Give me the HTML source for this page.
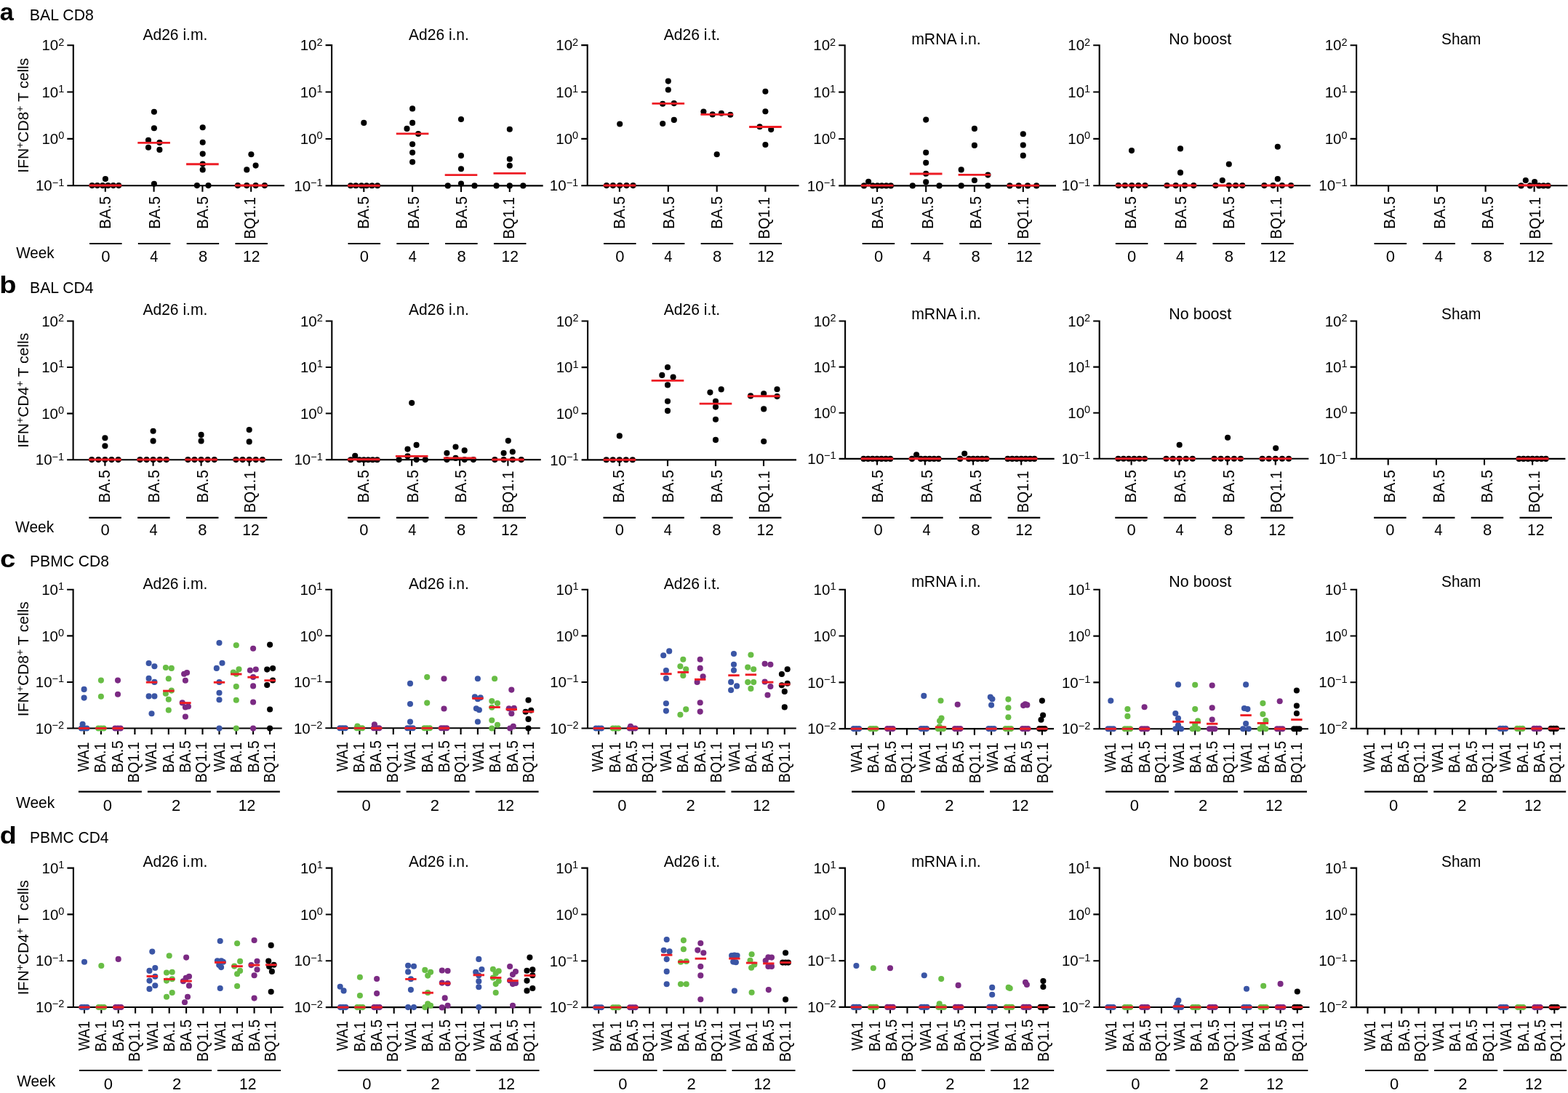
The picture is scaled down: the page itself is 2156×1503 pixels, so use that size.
<!DOCTYPE html>
<html><head><meta charset="utf-8"><title>IFN+ T cell responses</title>
<style>html,body{margin:0;padding:0;background:#fff;overflow:hidden;}svg{display:block;}</style></head>
<body><svg xmlns="http://www.w3.org/2000/svg" width="2156" height="1503" viewBox="0 0 2156 1503" font-family="'Liberation Sans', Arial, Helvetica, sans-serif" fill="#000">
<rect width="2156" height="1503" fill="#fff"/>
<text x="-0.22" y="27.8" font-size="33.5" font-weight="bold" textLength="19.05" lengthAdjust="spacingAndGlyphs">a</text>
<text x="40.86" y="27.8" font-size="22" textLength="88" lengthAdjust="spacingAndGlyphs">BAL CD8</text>
<text x="196.4" y="54.8" font-size="22" textLength="88.95" lengthAdjust="spacingAndGlyphs">Ad26 i.m.</text>
<path d="M100.8,61.2V255.2M92.3,255.2H391.1M92.3,62.2H100.8M92.3,126.53H100.8M92.3,190.87H100.8M144.8,255.2v8.6M211.6,255.2v8.6M278.4,255.2v8.6M345.2,255.2v8.6" stroke="#000" stroke-width="2.1" fill="none"/>
<text x="88.3" y="69.4" font-size="20.5" text-anchor="end">10<tspan font-size="14.5" dy="-6.8">2</tspan></text>
<text x="88.3" y="133.73" font-size="20.5" text-anchor="end">10<tspan font-size="14.5" dy="-6.8">1</tspan></text>
<text x="88.3" y="198.07" font-size="20.5" text-anchor="end">10<tspan font-size="14.5" dy="-6.8">0</tspan></text>
<text x="88.3" y="262.4" font-size="20.5" text-anchor="end">10<tspan font-size="14.5" dy="-6.8">−1</tspan></text>
<circle cx="126.6" cy="255.1" r="4.05" fill="#000000"/>
<circle cx="133.8" cy="255.1" r="4.05" fill="#000000"/>
<circle cx="141.1" cy="255.1" r="4.05" fill="#000000"/>
<circle cx="148.5" cy="255.1" r="4.05" fill="#000000"/>
<circle cx="155.8" cy="255.1" r="4.05" fill="#000000"/>
<circle cx="163.2" cy="255.1" r="4.05" fill="#000000"/>
<circle cx="144.9" cy="246" r="4.05" fill="#000000"/>
<circle cx="211.9" cy="153.7" r="4.05" fill="#000000"/>
<circle cx="211.9" cy="176.2" r="4.05" fill="#000000"/>
<circle cx="204" cy="192.8" r="4.05" fill="#000000"/>
<circle cx="219.4" cy="196.1" r="4.05" fill="#000000"/>
<circle cx="204" cy="202.7" r="4.05" fill="#000000"/>
<circle cx="219.4" cy="205.9" r="4.05" fill="#000000"/>
<circle cx="211.9" cy="252.7" r="4.05" fill="#000000"/>
<circle cx="278.7" cy="175.3" r="4.05" fill="#000000"/>
<circle cx="278.7" cy="195.8" r="4.05" fill="#000000"/>
<circle cx="278.7" cy="211.6" r="4.05" fill="#000000"/>
<circle cx="278.7" cy="225.6" r="4.05" fill="#000000"/>
<circle cx="278.7" cy="233.4" r="4.05" fill="#000000"/>
<circle cx="270.9" cy="255.1" r="4.05" fill="#000000"/>
<circle cx="286.5" cy="255.1" r="4.05" fill="#000000"/>
<circle cx="345.4" cy="212.2" r="4.05" fill="#000000"/>
<circle cx="351.6" cy="227.6" r="4.05" fill="#000000"/>
<circle cx="339.3" cy="233.4" r="4.05" fill="#000000"/>
<circle cx="326.9" cy="255.1" r="4.05" fill="#000000"/>
<circle cx="339.3" cy="255.1" r="4.05" fill="#000000"/>
<circle cx="351.6" cy="255.1" r="4.05" fill="#000000"/>
<circle cx="363.9" cy="255.1" r="4.05" fill="#000000"/>
<path d="M122.5,255H167.1" stroke="#ED1C24" stroke-width="2.9"/>
<path d="M189.3,196.4H233.9" stroke="#ED1C24" stroke-width="2.9"/>
<path d="M256.1,225.8H300.7" stroke="#ED1C24" stroke-width="2.9"/>
<path d="M322.9,255H367.5" stroke="#ED1C24" stroke-width="2.9"/>
<text transform="translate(151.5,270.5) rotate(-90)" x="-44.49" y="0" font-size="22" textLength="45.16" lengthAdjust="spacingAndGlyphs">BA.5</text>
<path d="M123.05,335H167.55" stroke="#000" stroke-width="2.1"/>
<text x="139.3" y="359.5" font-size="22" textLength="12.25" lengthAdjust="spacingAndGlyphs">0</text>
<text transform="translate(220,270.5) rotate(-90)" x="-44.49" y="0" font-size="22" textLength="45.16" lengthAdjust="spacingAndGlyphs">BA.5</text>
<path d="M189.85,335H234.35" stroke="#000" stroke-width="2.1"/>
<text x="206.19" y="359.5" font-size="22" textLength="11.14" lengthAdjust="spacingAndGlyphs">4</text>
<text transform="translate(286.4,270.5) rotate(-90)" x="-44.49" y="0" font-size="22" textLength="45.16" lengthAdjust="spacingAndGlyphs">BA.5</text>
<path d="M256.65,335H301.15" stroke="#000" stroke-width="2.1"/>
<text x="272.9" y="359.5" font-size="22" textLength="12.25" lengthAdjust="spacingAndGlyphs">8</text>
<text transform="translate(351.4,272.3) rotate(-90)" x="-56.55" y="0" font-size="22" textLength="57.83" lengthAdjust="spacingAndGlyphs">BQ1.1</text>
<path d="M323.45,335H367.95" stroke="#000" stroke-width="2.1"/>
<text x="334.04" y="359.5" font-size="22" textLength="23.44" lengthAdjust="spacingAndGlyphs">12</text>
<text x="22.3" y="355.1" font-size="22" textLength="52.29" lengthAdjust="spacingAndGlyphs">Week</text>
<text transform="translate(38.6,158.7) rotate(-90)" font-size="21" text-anchor="middle">IFN<tspan font-size="14" dy="-7">+</tspan><tspan dy="7">CD8</tspan><tspan font-size="14" dy="-7">+</tspan><tspan dy="7"> T cells</tspan></text>
<text x="562.1" y="54.8" font-size="22" textLength="82.76" lengthAdjust="spacingAndGlyphs">Ad26 i.n.</text>
<path d="M456.1,61.1V255.4M447.6,255.4H746.7M447.6,62.1H456.1M447.6,126.53H456.1M447.6,190.97H456.1M500.3,255.4v8.6M567.1,255.4v8.6M634,255.4v8.6M700.8,255.4v8.6" stroke="#000" stroke-width="2.1" fill="none"/>
<text x="443.6" y="69.3" font-size="20.5" text-anchor="end">10<tspan font-size="14.5" dy="-6.8">2</tspan></text>
<text x="443.6" y="133.73" font-size="20.5" text-anchor="end">10<tspan font-size="14.5" dy="-6.8">1</tspan></text>
<text x="443.6" y="198.17" font-size="20.5" text-anchor="end">10<tspan font-size="14.5" dy="-6.8">0</tspan></text>
<text x="443.6" y="262.6" font-size="20.5" text-anchor="end">10<tspan font-size="14.5" dy="-6.8">−1</tspan></text>
<circle cx="482.1" cy="255.3" r="4.05" fill="#000000"/>
<circle cx="489.3" cy="255.3" r="4.05" fill="#000000"/>
<circle cx="497" cy="255.3" r="4.05" fill="#000000"/>
<circle cx="504.1" cy="255.3" r="4.05" fill="#000000"/>
<circle cx="511.5" cy="255.3" r="4.05" fill="#000000"/>
<circle cx="519" cy="255.3" r="4.05" fill="#000000"/>
<circle cx="500.3" cy="168.9" r="4.05" fill="#000000"/>
<circle cx="567.1" cy="149.4" r="4.05" fill="#000000"/>
<circle cx="567.1" cy="168.9" r="4.05" fill="#000000"/>
<circle cx="559.5" cy="176.9" r="4.05" fill="#000000"/>
<circle cx="575.1" cy="184" r="4.05" fill="#000000"/>
<circle cx="567.1" cy="198.3" r="4.05" fill="#000000"/>
<circle cx="567.1" cy="209.8" r="4.05" fill="#000000"/>
<circle cx="567.1" cy="222.7" r="4.05" fill="#000000"/>
<circle cx="634" cy="164" r="4.05" fill="#000000"/>
<circle cx="634" cy="214" r="4.05" fill="#000000"/>
<circle cx="634" cy="232.2" r="4.05" fill="#000000"/>
<circle cx="634" cy="252.5" r="4.05" fill="#000000"/>
<circle cx="615.8" cy="255.4" r="4.05" fill="#000000"/>
<circle cx="652.5" cy="255.4" r="4.05" fill="#000000"/>
<circle cx="700.8" cy="177.8" r="4.05" fill="#000000"/>
<circle cx="700.8" cy="218.8" r="4.05" fill="#000000"/>
<circle cx="700.8" cy="227.8" r="4.05" fill="#000000"/>
<circle cx="682.6" cy="255.4" r="4.05" fill="#000000"/>
<circle cx="700.8" cy="255.4" r="4.05" fill="#000000"/>
<circle cx="719.3" cy="255.4" r="4.05" fill="#000000"/>
<path d="M478,255.2H522.6" stroke="#ED1C24" stroke-width="2.9"/>
<path d="M544.8,183.9H589.4" stroke="#ED1C24" stroke-width="2.9"/>
<path d="M611.7,240.6H656.3" stroke="#ED1C24" stroke-width="2.9"/>
<path d="M678.5,238.4H723.1" stroke="#ED1C24" stroke-width="2.9"/>
<text transform="translate(507,270.5) rotate(-90)" x="-44.49" y="0" font-size="22" textLength="45.16" lengthAdjust="spacingAndGlyphs">BA.5</text>
<path d="M478.55,335H523.05" stroke="#000" stroke-width="2.1"/>
<text x="494.8" y="359.5" font-size="22" textLength="12.25" lengthAdjust="spacingAndGlyphs">0</text>
<text transform="translate(575.5,270.5) rotate(-90)" x="-44.49" y="0" font-size="22" textLength="45.16" lengthAdjust="spacingAndGlyphs">BA.5</text>
<path d="M545.35,335H589.85" stroke="#000" stroke-width="2.1"/>
<text x="561.69" y="359.5" font-size="22" textLength="11.14" lengthAdjust="spacingAndGlyphs">4</text>
<text transform="translate(641.9,270.5) rotate(-90)" x="-44.49" y="0" font-size="22" textLength="45.16" lengthAdjust="spacingAndGlyphs">BA.5</text>
<path d="M612.15,335H656.65" stroke="#000" stroke-width="2.1"/>
<text x="628.4" y="359.5" font-size="22" textLength="12.25" lengthAdjust="spacingAndGlyphs">8</text>
<text transform="translate(706.9,272.3) rotate(-90)" x="-56.55" y="0" font-size="22" textLength="57.83" lengthAdjust="spacingAndGlyphs">BQ1.1</text>
<path d="M678.95,335H723.45" stroke="#000" stroke-width="2.1"/>
<text x="689.54" y="359.5" font-size="22" textLength="23.44" lengthAdjust="spacingAndGlyphs">12</text>
<text x="912.7" y="54.8" font-size="22" textLength="77.35" lengthAdjust="spacingAndGlyphs">Ad26 i.t.</text>
<path d="M807.7,61.1V255.2M799.2,255.2H1098.6M799.2,62.1H807.7M799.2,126.47H807.7M799.2,190.83H807.7M851.9,255.2v8.6M918.8,255.2v8.6M985.7,255.2v8.6M1052.4,255.2v8.6" stroke="#000" stroke-width="2.1" fill="none"/>
<text x="795.2" y="69.3" font-size="20.5" text-anchor="end">10<tspan font-size="14.5" dy="-6.8">2</tspan></text>
<text x="795.2" y="133.67" font-size="20.5" text-anchor="end">10<tspan font-size="14.5" dy="-6.8">1</tspan></text>
<text x="795.2" y="198.03" font-size="20.5" text-anchor="end">10<tspan font-size="14.5" dy="-6.8">0</tspan></text>
<text x="795.2" y="262.4" font-size="20.5" text-anchor="end">10<tspan font-size="14.5" dy="-6.8">−1</tspan></text>
<circle cx="834" cy="255.1" r="4.05" fill="#000000"/>
<circle cx="842.9" cy="255.1" r="4.05" fill="#000000"/>
<circle cx="852.2" cy="255.1" r="4.05" fill="#000000"/>
<circle cx="861.5" cy="255.1" r="4.05" fill="#000000"/>
<circle cx="870.5" cy="255.1" r="4.05" fill="#000000"/>
<circle cx="852.2" cy="170.5" r="4.05" fill="#000000"/>
<circle cx="918.8" cy="111.6" r="4.05" fill="#000000"/>
<circle cx="918.8" cy="123.5" r="4.05" fill="#000000"/>
<circle cx="911.2" cy="142.7" r="4.05" fill="#000000"/>
<circle cx="926.8" cy="142.1" r="4.05" fill="#000000"/>
<circle cx="926.8" cy="164.9" r="4.05" fill="#000000"/>
<circle cx="911.2" cy="170" r="4.05" fill="#000000"/>
<circle cx="967.4" cy="153.5" r="4.05" fill="#000000"/>
<circle cx="979.7" cy="157.4" r="4.05" fill="#000000"/>
<circle cx="991.9" cy="155.7" r="4.05" fill="#000000"/>
<circle cx="1004.3" cy="157.7" r="4.05" fill="#000000"/>
<circle cx="985.7" cy="212.2" r="4.05" fill="#000000"/>
<circle cx="1052.4" cy="125.7" r="4.05" fill="#000000"/>
<circle cx="1052.4" cy="153.3" r="4.05" fill="#000000"/>
<circle cx="1044.6" cy="174.2" r="4.05" fill="#000000"/>
<circle cx="1060.2" cy="178.1" r="4.05" fill="#000000"/>
<circle cx="1052.4" cy="199" r="4.05" fill="#000000"/>
<path d="M829.6,255H874.2" stroke="#ED1C24" stroke-width="2.9"/>
<path d="M896.5,142.4H941.1" stroke="#ED1C24" stroke-width="2.9"/>
<path d="M963.4,157.4H1008" stroke="#ED1C24" stroke-width="2.9"/>
<path d="M1030.1,174.5H1074.7" stroke="#ED1C24" stroke-width="2.9"/>
<text transform="translate(858.5,270.5) rotate(-90)" x="-44.49" y="0" font-size="22" textLength="45.16" lengthAdjust="spacingAndGlyphs">BA.5</text>
<path d="M830.05,335H874.55" stroke="#000" stroke-width="2.1"/>
<text x="846.3" y="359.5" font-size="22" textLength="12.25" lengthAdjust="spacingAndGlyphs">0</text>
<text transform="translate(927,270.5) rotate(-90)" x="-44.49" y="0" font-size="22" textLength="45.16" lengthAdjust="spacingAndGlyphs">BA.5</text>
<path d="M896.85,335H941.35" stroke="#000" stroke-width="2.1"/>
<text x="913.19" y="359.5" font-size="22" textLength="11.14" lengthAdjust="spacingAndGlyphs">4</text>
<text transform="translate(993.4,270.5) rotate(-90)" x="-44.49" y="0" font-size="22" textLength="45.16" lengthAdjust="spacingAndGlyphs">BA.5</text>
<path d="M963.65,335H1008.15" stroke="#000" stroke-width="2.1"/>
<text x="979.9" y="359.5" font-size="22" textLength="12.25" lengthAdjust="spacingAndGlyphs">8</text>
<text transform="translate(1058.4,272.3) rotate(-90)" x="-56.55" y="0" font-size="22" textLength="57.83" lengthAdjust="spacingAndGlyphs">BQ1.1</text>
<path d="M1030.45,335H1074.95" stroke="#000" stroke-width="2.1"/>
<text x="1041.04" y="359.5" font-size="22" textLength="23.44" lengthAdjust="spacingAndGlyphs">12</text>
<text x="1253.17" y="60.9" font-size="22" textLength="95.59" lengthAdjust="spacingAndGlyphs">mRNA i.n.</text>
<path d="M1161.7,61.2V255.4M1153.2,255.4H1452M1153.2,62.2H1161.7M1153.2,126.6H1161.7M1153.2,191H1161.7M1206.1,255.4v8.6M1273.2,255.4v8.6M1339.9,255.4v8.6M1406.8,255.4v8.6" stroke="#000" stroke-width="2.1" fill="none"/>
<text x="1149.2" y="69.4" font-size="20.5" text-anchor="end">10<tspan font-size="14.5" dy="-6.8">2</tspan></text>
<text x="1149.2" y="133.8" font-size="20.5" text-anchor="end">10<tspan font-size="14.5" dy="-6.8">1</tspan></text>
<text x="1149.2" y="198.2" font-size="20.5" text-anchor="end">10<tspan font-size="14.5" dy="-6.8">0</tspan></text>
<text x="1149.2" y="262.6" font-size="20.5" text-anchor="end">10<tspan font-size="14.5" dy="-6.8">−1</tspan></text>
<circle cx="1194.1" cy="249.8" r="4.05" fill="#000000"/>
<circle cx="1188" cy="255.4" r="4.05" fill="#000000"/>
<circle cx="1200.1" cy="255.4" r="4.05" fill="#000000"/>
<circle cx="1206.4" cy="255.4" r="4.05" fill="#000000"/>
<circle cx="1212.5" cy="255.4" r="4.05" fill="#000000"/>
<circle cx="1218.6" cy="255.4" r="4.05" fill="#000000"/>
<circle cx="1224.9" cy="255.4" r="4.05" fill="#000000"/>
<circle cx="1273.2" cy="164.6" r="4.05" fill="#000000"/>
<circle cx="1273.2" cy="209.7" r="4.05" fill="#000000"/>
<circle cx="1273.2" cy="223.8" r="4.05" fill="#000000"/>
<circle cx="1273.2" cy="238.8" r="4.05" fill="#000000"/>
<circle cx="1273.2" cy="250.2" r="4.05" fill="#000000"/>
<circle cx="1254.8" cy="255.4" r="4.05" fill="#000000"/>
<circle cx="1291.5" cy="255.4" r="4.05" fill="#000000"/>
<circle cx="1339.9" cy="176.9" r="4.05" fill="#000000"/>
<circle cx="1339.9" cy="199.9" r="4.05" fill="#000000"/>
<circle cx="1321.7" cy="233.4" r="4.05" fill="#000000"/>
<circle cx="1358.4" cy="240.6" r="4.05" fill="#000000"/>
<circle cx="1339.9" cy="248" r="4.05" fill="#000000"/>
<circle cx="1321.7" cy="255.4" r="4.05" fill="#000000"/>
<circle cx="1358.4" cy="255.4" r="4.05" fill="#000000"/>
<circle cx="1406.8" cy="184.3" r="4.05" fill="#000000"/>
<circle cx="1406.8" cy="199.5" r="4.05" fill="#000000"/>
<circle cx="1406.8" cy="213.9" r="4.05" fill="#000000"/>
<circle cx="1388.4" cy="255.4" r="4.05" fill="#000000"/>
<circle cx="1400.7" cy="255.4" r="4.05" fill="#000000"/>
<circle cx="1413" cy="255.4" r="4.05" fill="#000000"/>
<circle cx="1425.2" cy="255.4" r="4.05" fill="#000000"/>
<path d="M1183.8,255.1H1228.4" stroke="#ED1C24" stroke-width="2.9"/>
<path d="M1250.9,239H1295.5" stroke="#ED1C24" stroke-width="2.9"/>
<path d="M1317.6,240.4H1362.2" stroke="#ED1C24" stroke-width="2.9"/>
<path d="M1384.5,255.1H1429.1" stroke="#ED1C24" stroke-width="2.9"/>
<text transform="translate(1214.1,270.5) rotate(-90)" x="-44.49" y="0" font-size="22" textLength="45.16" lengthAdjust="spacingAndGlyphs">BA.5</text>
<path d="M1185.65,335H1230.15" stroke="#000" stroke-width="2.1"/>
<text x="1201.9" y="359.5" font-size="22" textLength="12.25" lengthAdjust="spacingAndGlyphs">0</text>
<text transform="translate(1282.6,270.5) rotate(-90)" x="-44.49" y="0" font-size="22" textLength="45.16" lengthAdjust="spacingAndGlyphs">BA.5</text>
<path d="M1252.45,335H1296.95" stroke="#000" stroke-width="2.1"/>
<text x="1268.79" y="359.5" font-size="22" textLength="11.14" lengthAdjust="spacingAndGlyphs">4</text>
<text transform="translate(1349,270.5) rotate(-90)" x="-44.49" y="0" font-size="22" textLength="45.16" lengthAdjust="spacingAndGlyphs">BA.5</text>
<path d="M1319.25,335H1363.75" stroke="#000" stroke-width="2.1"/>
<text x="1335.5" y="359.5" font-size="22" textLength="12.25" lengthAdjust="spacingAndGlyphs">8</text>
<text transform="translate(1414,272.3) rotate(-90)" x="-56.55" y="0" font-size="22" textLength="57.83" lengthAdjust="spacingAndGlyphs">BQ1.1</text>
<path d="M1386.05,335H1430.55" stroke="#000" stroke-width="2.1"/>
<text x="1396.64" y="359.5" font-size="22" textLength="23.44" lengthAdjust="spacingAndGlyphs">12</text>
<text x="1607.25" y="60.9" font-size="22" textLength="86.01" lengthAdjust="spacingAndGlyphs">No boost</text>
<path d="M1511.7,61.2V255.2M1503.2,255.2H1802M1503.2,62.2H1511.7M1503.2,126.53H1511.7M1503.2,190.87H1511.7M1556,255.2v8.6M1623,255.2v8.6M1689.8,255.2v8.6M1756.8,255.2v8.6" stroke="#000" stroke-width="2.1" fill="none"/>
<text x="1499.2" y="69.4" font-size="20.5" text-anchor="end">10<tspan font-size="14.5" dy="-6.8">2</tspan></text>
<text x="1499.2" y="133.73" font-size="20.5" text-anchor="end">10<tspan font-size="14.5" dy="-6.8">1</tspan></text>
<text x="1499.2" y="198.07" font-size="20.5" text-anchor="end">10<tspan font-size="14.5" dy="-6.8">0</tspan></text>
<text x="1499.2" y="262.4" font-size="20.5" text-anchor="end">10<tspan font-size="14.5" dy="-6.8">−1</tspan></text>
<circle cx="1556" cy="207.1" r="4.05" fill="#000000"/>
<circle cx="1537.8" cy="255.1" r="4.05" fill="#000000"/>
<circle cx="1546.9" cy="255.1" r="4.05" fill="#000000"/>
<circle cx="1556.2" cy="255.1" r="4.05" fill="#000000"/>
<circle cx="1565.3" cy="255.1" r="4.05" fill="#000000"/>
<circle cx="1574.5" cy="255.1" r="4.05" fill="#000000"/>
<circle cx="1623" cy="204.4" r="4.05" fill="#000000"/>
<circle cx="1623" cy="237.4" r="4.05" fill="#000000"/>
<circle cx="1604.6" cy="255.1" r="4.05" fill="#000000"/>
<circle cx="1616.7" cy="255.1" r="4.05" fill="#000000"/>
<circle cx="1629.1" cy="255.1" r="4.05" fill="#000000"/>
<circle cx="1641.3" cy="255.1" r="4.05" fill="#000000"/>
<circle cx="1689.8" cy="225.8" r="4.05" fill="#000000"/>
<circle cx="1680.8" cy="248" r="4.05" fill="#000000"/>
<circle cx="1671.4" cy="255.1" r="4.05" fill="#000000"/>
<circle cx="1689.8" cy="255.1" r="4.05" fill="#000000"/>
<circle cx="1699.1" cy="255.1" r="4.05" fill="#000000"/>
<circle cx="1708.3" cy="255.1" r="4.05" fill="#000000"/>
<circle cx="1756.8" cy="201.7" r="4.05" fill="#000000"/>
<circle cx="1756.8" cy="246" r="4.05" fill="#000000"/>
<circle cx="1738.4" cy="255.1" r="4.05" fill="#000000"/>
<circle cx="1750.5" cy="255.1" r="4.05" fill="#000000"/>
<circle cx="1762.9" cy="255.1" r="4.05" fill="#000000"/>
<circle cx="1775.1" cy="255.1" r="4.05" fill="#000000"/>
<path d="M1533.7,255H1578.3" stroke="#ED1C24" stroke-width="2.9"/>
<path d="M1600.7,255H1645.3" stroke="#ED1C24" stroke-width="2.9"/>
<path d="M1667.5,255H1712.1" stroke="#ED1C24" stroke-width="2.9"/>
<path d="M1734.5,255H1779.1" stroke="#ED1C24" stroke-width="2.9"/>
<text transform="translate(1562.3,270.5) rotate(-90)" x="-44.49" y="0" font-size="22" textLength="45.16" lengthAdjust="spacingAndGlyphs">BA.5</text>
<path d="M1533.85,335H1578.35" stroke="#000" stroke-width="2.1"/>
<text x="1550.1" y="359.5" font-size="22" textLength="12.25" lengthAdjust="spacingAndGlyphs">0</text>
<text transform="translate(1630.8,270.5) rotate(-90)" x="-44.49" y="0" font-size="22" textLength="45.16" lengthAdjust="spacingAndGlyphs">BA.5</text>
<path d="M1600.65,335H1645.15" stroke="#000" stroke-width="2.1"/>
<text x="1616.99" y="359.5" font-size="22" textLength="11.14" lengthAdjust="spacingAndGlyphs">4</text>
<text transform="translate(1697.2,270.5) rotate(-90)" x="-44.49" y="0" font-size="22" textLength="45.16" lengthAdjust="spacingAndGlyphs">BA.5</text>
<path d="M1667.45,335H1711.95" stroke="#000" stroke-width="2.1"/>
<text x="1683.7" y="359.5" font-size="22" textLength="12.25" lengthAdjust="spacingAndGlyphs">8</text>
<text transform="translate(1762.2,272.3) rotate(-90)" x="-56.55" y="0" font-size="22" textLength="57.83" lengthAdjust="spacingAndGlyphs">BQ1.1</text>
<path d="M1734.25,335H1778.75" stroke="#000" stroke-width="2.1"/>
<text x="1744.84" y="359.5" font-size="22" textLength="23.44" lengthAdjust="spacingAndGlyphs">12</text>
<text x="1982.06" y="60.9" font-size="22" textLength="54.24" lengthAdjust="spacingAndGlyphs">Sham</text>
<path d="M1865.1,61.2V255.2M1856.6,255.2H2155.4M1856.6,62.2H1865.1M1856.6,126.53H1865.1M1856.6,190.87H1865.1M1909.1,255.2v8.6M1976,255.2v8.6M2042.6,255.2v8.6M2109.6,255.2v8.6" stroke="#000" stroke-width="2.1" fill="none"/>
<text x="1852.6" y="69.4" font-size="20.5" text-anchor="end">10<tspan font-size="14.5" dy="-6.8">2</tspan></text>
<text x="1852.6" y="133.73" font-size="20.5" text-anchor="end">10<tspan font-size="14.5" dy="-6.8">1</tspan></text>
<text x="1852.6" y="198.07" font-size="20.5" text-anchor="end">10<tspan font-size="14.5" dy="-6.8">0</tspan></text>
<text x="1852.6" y="262.4" font-size="20.5" text-anchor="end">10<tspan font-size="14.5" dy="-6.8">−1</tspan></text>
<circle cx="2091.6" cy="255.4" r="4.05" fill="#000000"/>
<circle cx="2103.8" cy="255.4" r="4.05" fill="#000000"/>
<circle cx="2116.1" cy="255.4" r="4.05" fill="#000000"/>
<circle cx="2122.3" cy="255.4" r="4.05" fill="#000000"/>
<circle cx="2128.5" cy="255.4" r="4.05" fill="#000000"/>
<circle cx="2097.8" cy="248" r="4.05" fill="#000000"/>
<circle cx="2110.1" cy="250" r="4.05" fill="#000000"/>
<path d="M2087.3,254.8H2131.9" stroke="#ED1C24" stroke-width="2.9"/>
<text transform="translate(1918,270.5) rotate(-90)" x="-44.49" y="0" font-size="22" textLength="45.16" lengthAdjust="spacingAndGlyphs">BA.5</text>
<path d="M1889.55,335H1934.05" stroke="#000" stroke-width="2.1"/>
<text x="1905.8" y="359.5" font-size="22" textLength="12.25" lengthAdjust="spacingAndGlyphs">0</text>
<text transform="translate(1986.5,270.5) rotate(-90)" x="-44.49" y="0" font-size="22" textLength="45.16" lengthAdjust="spacingAndGlyphs">BA.5</text>
<path d="M1956.35,335H2000.85" stroke="#000" stroke-width="2.1"/>
<text x="1972.69" y="359.5" font-size="22" textLength="11.14" lengthAdjust="spacingAndGlyphs">4</text>
<text transform="translate(2052.9,270.5) rotate(-90)" x="-44.49" y="0" font-size="22" textLength="45.16" lengthAdjust="spacingAndGlyphs">BA.5</text>
<path d="M2023.15,335H2067.65" stroke="#000" stroke-width="2.1"/>
<text x="2039.4" y="359.5" font-size="22" textLength="12.25" lengthAdjust="spacingAndGlyphs">8</text>
<text transform="translate(2117.9,272.3) rotate(-90)" x="-56.55" y="0" font-size="22" textLength="57.83" lengthAdjust="spacingAndGlyphs">BQ1.1</text>
<path d="M2089.95,335H2134.45" stroke="#000" stroke-width="2.1"/>
<text x="2100.54" y="359.5" font-size="22" textLength="23.44" lengthAdjust="spacingAndGlyphs">12</text>
<text x="-0.77" y="403.4" font-size="33.5" font-weight="bold" textLength="23.24" lengthAdjust="spacingAndGlyphs">b</text>
<text x="41.08" y="402.7" font-size="22" textLength="87.38" lengthAdjust="spacingAndGlyphs">BAL CD4</text>
<text x="196.4" y="432.8" font-size="22" textLength="88.95" lengthAdjust="spacingAndGlyphs">Ad26 i.m.</text>
<path d="M100.6,440.5V632.2M92.1,632.2H387.9M92.1,441.5H100.6M92.1,505.07H100.6M92.1,568.63H100.6M144.4,632.2v8.6M210.6,632.2v8.6M276.6,632.2v8.6M342.7,632.2v8.6" stroke="#000" stroke-width="2.1" fill="none"/>
<text x="88.1" y="448.7" font-size="20.5" text-anchor="end">10<tspan font-size="14.5" dy="-6.8">2</tspan></text>
<text x="88.1" y="512.27" font-size="20.5" text-anchor="end">10<tspan font-size="14.5" dy="-6.8">1</tspan></text>
<text x="88.1" y="575.83" font-size="20.5" text-anchor="end">10<tspan font-size="14.5" dy="-6.8">0</tspan></text>
<text x="88.1" y="639.4" font-size="20.5" text-anchor="end">10<tspan font-size="14.5" dy="-6.8">−1</tspan></text>
<circle cx="126.2" cy="632.1" r="4.05" fill="#000000"/>
<circle cx="135.3" cy="632.1" r="4.05" fill="#000000"/>
<circle cx="144.4" cy="632.1" r="4.05" fill="#000000"/>
<circle cx="153.5" cy="632.1" r="4.05" fill="#000000"/>
<circle cx="162.6" cy="632.1" r="4.05" fill="#000000"/>
<circle cx="144.4" cy="602.2" r="4.05" fill="#000000"/>
<circle cx="144.4" cy="613.2" r="4.05" fill="#000000"/>
<circle cx="192.5" cy="632.1" r="4.05" fill="#000000"/>
<circle cx="201.6" cy="632.1" r="4.05" fill="#000000"/>
<circle cx="210.6" cy="632.1" r="4.05" fill="#000000"/>
<circle cx="219.7" cy="632.1" r="4.05" fill="#000000"/>
<circle cx="228.8" cy="632.1" r="4.05" fill="#000000"/>
<circle cx="210.6" cy="592.7" r="4.05" fill="#000000"/>
<circle cx="210.6" cy="606.4" r="4.05" fill="#000000"/>
<circle cx="258.4" cy="632.1" r="4.05" fill="#000000"/>
<circle cx="267.5" cy="632.1" r="4.05" fill="#000000"/>
<circle cx="276.6" cy="632.1" r="4.05" fill="#000000"/>
<circle cx="285.7" cy="632.1" r="4.05" fill="#000000"/>
<circle cx="294.8" cy="632.1" r="4.05" fill="#000000"/>
<circle cx="276.6" cy="597.9" r="4.05" fill="#000000"/>
<circle cx="276.6" cy="606.4" r="4.05" fill="#000000"/>
<circle cx="324.5" cy="632.1" r="4.05" fill="#000000"/>
<circle cx="333.6" cy="632.1" r="4.05" fill="#000000"/>
<circle cx="342.7" cy="632.1" r="4.05" fill="#000000"/>
<circle cx="351.8" cy="632.1" r="4.05" fill="#000000"/>
<circle cx="360.9" cy="632.1" r="4.05" fill="#000000"/>
<circle cx="342.7" cy="591" r="4.05" fill="#000000"/>
<circle cx="342.7" cy="607.4" r="4.05" fill="#000000"/>
<path d="M122.1,632H166.7" stroke="#ED1C24" stroke-width="2.9"/>
<path d="M188.3,632H232.9" stroke="#ED1C24" stroke-width="2.9"/>
<path d="M254.3,632H298.9" stroke="#ED1C24" stroke-width="2.9"/>
<path d="M320.4,632H365" stroke="#ED1C24" stroke-width="2.9"/>
<text transform="translate(150.8,646.9) rotate(-90)" x="-44.49" y="0" font-size="22" textLength="45.16" lengthAdjust="spacingAndGlyphs">BA.5</text>
<path d="M122.35,711.9H166.85" stroke="#000" stroke-width="2.1"/>
<text x="138.6" y="736.1" font-size="22" textLength="12.25" lengthAdjust="spacingAndGlyphs">0</text>
<text transform="translate(219.3,646.9) rotate(-90)" x="-44.49" y="0" font-size="22" textLength="45.16" lengthAdjust="spacingAndGlyphs">BA.5</text>
<path d="M189.15,711.9H233.65" stroke="#000" stroke-width="2.1"/>
<text x="205.49" y="736.1" font-size="22" textLength="11.14" lengthAdjust="spacingAndGlyphs">4</text>
<text transform="translate(285.7,646.9) rotate(-90)" x="-44.49" y="0" font-size="22" textLength="45.16" lengthAdjust="spacingAndGlyphs">BA.5</text>
<path d="M255.95,711.9H300.45" stroke="#000" stroke-width="2.1"/>
<text x="272.2" y="736.1" font-size="22" textLength="12.25" lengthAdjust="spacingAndGlyphs">8</text>
<text transform="translate(350.7,648.7) rotate(-90)" x="-56.55" y="0" font-size="22" textLength="57.83" lengthAdjust="spacingAndGlyphs">BQ1.1</text>
<path d="M322.75,711.9H367.25" stroke="#000" stroke-width="2.1"/>
<text x="333.34" y="736.1" font-size="22" textLength="23.44" lengthAdjust="spacingAndGlyphs">12</text>
<text x="21.1" y="731.8" font-size="22" textLength="53" lengthAdjust="spacingAndGlyphs">Week</text>
<text transform="translate(38.6,536.85) rotate(-90)" font-size="21" text-anchor="middle">IFN<tspan font-size="14" dy="-7">+</tspan><tspan dy="7">CD4</tspan><tspan font-size="14" dy="-7">+</tspan><tspan dy="7"> T cells</tspan></text>
<text x="562.1" y="432.8" font-size="22" textLength="82.76" lengthAdjust="spacingAndGlyphs">Ad26 i.n.</text>
<path d="M456.3,440.5V632.1M447.8,632.1H743.7M447.8,441.5H456.3M447.8,505.03H456.3M447.8,568.57H456.3M500.1,632.1v8.6M566.2,632.1v8.6M632.2,632.1v8.6M698.4,632.1v8.6" stroke="#000" stroke-width="2.1" fill="none"/>
<text x="443.8" y="448.7" font-size="20.5" text-anchor="end">10<tspan font-size="14.5" dy="-6.8">2</tspan></text>
<text x="443.8" y="512.23" font-size="20.5" text-anchor="end">10<tspan font-size="14.5" dy="-6.8">1</tspan></text>
<text x="443.8" y="575.77" font-size="20.5" text-anchor="end">10<tspan font-size="14.5" dy="-6.8">0</tspan></text>
<text x="443.8" y="639.3" font-size="20.5" text-anchor="end">10<tspan font-size="14.5" dy="-6.8">−1</tspan></text>
<circle cx="482.2" cy="632.3" r="4.05" fill="#000000"/>
<circle cx="494.2" cy="632.3" r="4.05" fill="#000000"/>
<circle cx="500.3" cy="632.3" r="4.05" fill="#000000"/>
<circle cx="506.3" cy="632.3" r="4.05" fill="#000000"/>
<circle cx="512.4" cy="632.3" r="4.05" fill="#000000"/>
<circle cx="518.6" cy="632.3" r="4.05" fill="#000000"/>
<circle cx="488.2" cy="626.7" r="4.05" fill="#000000"/>
<circle cx="566.2" cy="554.1" r="4.05" fill="#000000"/>
<circle cx="572.6" cy="611.9" r="4.05" fill="#000000"/>
<circle cx="560.5" cy="617.6" r="4.05" fill="#000000"/>
<circle cx="560.5" cy="627.3" r="4.05" fill="#000000"/>
<circle cx="548.6" cy="632.1" r="4.05" fill="#000000"/>
<circle cx="572.6" cy="632.1" r="4.05" fill="#000000"/>
<circle cx="584.8" cy="632.1" r="4.05" fill="#000000"/>
<circle cx="614.4" cy="623" r="4.05" fill="#000000"/>
<circle cx="626.5" cy="614.5" r="4.05" fill="#000000"/>
<circle cx="638.7" cy="619.4" r="4.05" fill="#000000"/>
<circle cx="626.5" cy="629.9" r="4.05" fill="#000000"/>
<circle cx="614.4" cy="632.1" r="4.05" fill="#000000"/>
<circle cx="638.7" cy="632.1" r="4.05" fill="#000000"/>
<circle cx="650.9" cy="632.1" r="4.05" fill="#000000"/>
<circle cx="698.8" cy="606.1" r="4.05" fill="#000000"/>
<circle cx="692.6" cy="623.1" r="4.05" fill="#000000"/>
<circle cx="704.8" cy="621.2" r="4.05" fill="#000000"/>
<circle cx="680.4" cy="632.1" r="4.05" fill="#000000"/>
<circle cx="692.6" cy="632.1" r="4.05" fill="#000000"/>
<circle cx="704.8" cy="632.1" r="4.05" fill="#000000"/>
<circle cx="716.8" cy="632.1" r="4.05" fill="#000000"/>
<path d="M477.8,631.8H522.4" stroke="#ED1C24" stroke-width="2.9"/>
<path d="M543.9,627.4H588.5" stroke="#ED1C24" stroke-width="2.9"/>
<path d="M609.9,629.9H654.5" stroke="#ED1C24" stroke-width="2.9"/>
<path d="M676.1,632H720.7" stroke="#ED1C24" stroke-width="2.9"/>
<text transform="translate(506.55,646.9) rotate(-90)" x="-44.49" y="0" font-size="22" textLength="45.16" lengthAdjust="spacingAndGlyphs">BA.5</text>
<path d="M478.1,711.9H522.6" stroke="#000" stroke-width="2.1"/>
<text x="494.35" y="736.1" font-size="22" textLength="12.25" lengthAdjust="spacingAndGlyphs">0</text>
<text transform="translate(575.05,646.9) rotate(-90)" x="-44.49" y="0" font-size="22" textLength="45.16" lengthAdjust="spacingAndGlyphs">BA.5</text>
<path d="M544.9,711.9H589.4" stroke="#000" stroke-width="2.1"/>
<text x="561.24" y="736.1" font-size="22" textLength="11.14" lengthAdjust="spacingAndGlyphs">4</text>
<text transform="translate(641.45,646.9) rotate(-90)" x="-44.49" y="0" font-size="22" textLength="45.16" lengthAdjust="spacingAndGlyphs">BA.5</text>
<path d="M611.7,711.9H656.2" stroke="#000" stroke-width="2.1"/>
<text x="627.95" y="736.1" font-size="22" textLength="12.25" lengthAdjust="spacingAndGlyphs">8</text>
<text transform="translate(706.45,648.7) rotate(-90)" x="-56.55" y="0" font-size="22" textLength="57.83" lengthAdjust="spacingAndGlyphs">BQ1.1</text>
<path d="M678.5,711.9H723" stroke="#000" stroke-width="2.1"/>
<text x="689.09" y="736.1" font-size="22" textLength="23.44" lengthAdjust="spacingAndGlyphs">12</text>
<text x="912.7" y="432.8" font-size="22" textLength="77.35" lengthAdjust="spacingAndGlyphs">Ad26 i.t.</text>
<path d="M808.1,440.5V632.4M799.6,632.4H1095M799.6,441.5H808.1M799.6,505.13H808.1M799.6,568.77H808.1M851.8,632.4v8.6M918,632.4v8.6M984,632.4v8.6M1050,632.4v8.6" stroke="#000" stroke-width="2.1" fill="none"/>
<text x="795.6" y="448.7" font-size="20.5" text-anchor="end">10<tspan font-size="14.5" dy="-6.8">2</tspan></text>
<text x="795.6" y="512.33" font-size="20.5" text-anchor="end">10<tspan font-size="14.5" dy="-6.8">1</tspan></text>
<text x="795.6" y="575.97" font-size="20.5" text-anchor="end">10<tspan font-size="14.5" dy="-6.8">0</tspan></text>
<text x="795.6" y="639.6" font-size="20.5" text-anchor="end">10<tspan font-size="14.5" dy="-6.8">−1</tspan></text>
<circle cx="833.7" cy="632.3" r="4.05" fill="#000000"/>
<circle cx="842.7" cy="632.3" r="4.05" fill="#000000"/>
<circle cx="851.8" cy="632.3" r="4.05" fill="#000000"/>
<circle cx="860.8" cy="632.3" r="4.05" fill="#000000"/>
<circle cx="869.8" cy="632.3" r="4.05" fill="#000000"/>
<circle cx="851.8" cy="599.4" r="4.05" fill="#000000"/>
<circle cx="918" cy="505" r="4.05" fill="#000000"/>
<circle cx="910.3" cy="515.9" r="4.05" fill="#000000"/>
<circle cx="925.6" cy="518.5" r="4.05" fill="#000000"/>
<circle cx="918" cy="529.4" r="4.05" fill="#000000"/>
<circle cx="918" cy="551.7" r="4.05" fill="#000000"/>
<circle cx="918" cy="564.9" r="4.05" fill="#000000"/>
<circle cx="976.4" cy="539.6" r="4.05" fill="#000000"/>
<circle cx="991.7" cy="535.4" r="4.05" fill="#000000"/>
<circle cx="984" cy="551.7" r="4.05" fill="#000000"/>
<circle cx="984" cy="559.6" r="4.05" fill="#000000"/>
<circle cx="984" cy="576.7" r="4.05" fill="#000000"/>
<circle cx="984" cy="604.9" r="4.05" fill="#000000"/>
<circle cx="1068.5" cy="535.2" r="4.05" fill="#000000"/>
<circle cx="1050.2" cy="541.2" r="4.05" fill="#000000"/>
<circle cx="1032.1" cy="544.4" r="4.05" fill="#000000"/>
<circle cx="1068.5" cy="545.1" r="4.05" fill="#000000"/>
<circle cx="1050.2" cy="562.4" r="4.05" fill="#000000"/>
<circle cx="1050.2" cy="607" r="4.05" fill="#000000"/>
<path d="M829.5,632.2H874.1" stroke="#ED1C24" stroke-width="2.9"/>
<path d="M895.7,523.4H940.3" stroke="#ED1C24" stroke-width="2.9"/>
<path d="M961.7,555.1H1006.3" stroke="#ED1C24" stroke-width="2.9"/>
<path d="M1027.7,544.7H1072.3" stroke="#ED1C24" stroke-width="2.9"/>
<text transform="translate(857.95,646.9) rotate(-90)" x="-44.49" y="0" font-size="22" textLength="45.16" lengthAdjust="spacingAndGlyphs">BA.5</text>
<path d="M829.5,711.9H874" stroke="#000" stroke-width="2.1"/>
<text x="845.75" y="736.1" font-size="22" textLength="12.25" lengthAdjust="spacingAndGlyphs">0</text>
<text transform="translate(926.45,646.9) rotate(-90)" x="-44.49" y="0" font-size="22" textLength="45.16" lengthAdjust="spacingAndGlyphs">BA.5</text>
<path d="M896.3,711.9H940.8" stroke="#000" stroke-width="2.1"/>
<text x="912.64" y="736.1" font-size="22" textLength="11.14" lengthAdjust="spacingAndGlyphs">4</text>
<text transform="translate(992.85,646.9) rotate(-90)" x="-44.49" y="0" font-size="22" textLength="45.16" lengthAdjust="spacingAndGlyphs">BA.5</text>
<path d="M963.1,711.9H1007.6" stroke="#000" stroke-width="2.1"/>
<text x="979.35" y="736.1" font-size="22" textLength="12.25" lengthAdjust="spacingAndGlyphs">8</text>
<text transform="translate(1057.85,648.7) rotate(-90)" x="-56.55" y="0" font-size="22" textLength="57.83" lengthAdjust="spacingAndGlyphs">BQ1.1</text>
<path d="M1029.9,711.9H1074.4" stroke="#000" stroke-width="2.1"/>
<text x="1040.49" y="736.1" font-size="22" textLength="23.44" lengthAdjust="spacingAndGlyphs">12</text>
<text x="1253.17" y="438.9" font-size="22" textLength="95.59" lengthAdjust="spacingAndGlyphs">mRNA i.n.</text>
<path d="M1162.1,440.5V630.9M1153.6,630.9H1449.7M1153.6,441.5H1162.1M1153.6,504.63H1162.1M1153.6,567.77H1162.1M1206,630.9v8.6M1271.9,630.9v8.6M1338.1,630.9v8.6M1404.2,630.9v8.6" stroke="#000" stroke-width="2.1" fill="none"/>
<text x="1149.6" y="448.7" font-size="20.5" text-anchor="end">10<tspan font-size="14.5" dy="-6.8">2</tspan></text>
<text x="1149.6" y="511.83" font-size="20.5" text-anchor="end">10<tspan font-size="14.5" dy="-6.8">1</tspan></text>
<text x="1149.6" y="574.97" font-size="20.5" text-anchor="end">10<tspan font-size="14.5" dy="-6.8">0</tspan></text>
<text x="1149.6" y="638.1" font-size="20.5" text-anchor="end">10<tspan font-size="14.5" dy="-6.8">−1</tspan></text>
<circle cx="1187.5" cy="630.9" r="4.05" fill="#000000"/>
<circle cx="1193.6" cy="630.9" r="4.05" fill="#000000"/>
<circle cx="1199.8" cy="630.9" r="4.05" fill="#000000"/>
<circle cx="1205.9" cy="630.9" r="4.05" fill="#000000"/>
<circle cx="1212" cy="630.9" r="4.05" fill="#000000"/>
<circle cx="1218.1" cy="630.9" r="4.05" fill="#000000"/>
<circle cx="1224.2" cy="630.9" r="4.05" fill="#000000"/>
<circle cx="1254" cy="630.9" r="4.05" fill="#000000"/>
<circle cx="1266" cy="630.9" r="4.05" fill="#000000"/>
<circle cx="1272.1" cy="630.9" r="4.05" fill="#000000"/>
<circle cx="1278.2" cy="630.9" r="4.05" fill="#000000"/>
<circle cx="1284.3" cy="630.9" r="4.05" fill="#000000"/>
<circle cx="1290.5" cy="630.9" r="4.05" fill="#000000"/>
<circle cx="1260.1" cy="625.3" r="4.05" fill="#000000"/>
<circle cx="1320.1" cy="630.9" r="4.05" fill="#000000"/>
<circle cx="1332.1" cy="630.9" r="4.05" fill="#000000"/>
<circle cx="1338.1" cy="630.9" r="4.05" fill="#000000"/>
<circle cx="1344.2" cy="630.9" r="4.05" fill="#000000"/>
<circle cx="1350.3" cy="630.9" r="4.05" fill="#000000"/>
<circle cx="1356.4" cy="630.9" r="4.05" fill="#000000"/>
<circle cx="1326.2" cy="623.7" r="4.05" fill="#000000"/>
<circle cx="1385.6" cy="630.9" r="4.05" fill="#000000"/>
<circle cx="1391.8" cy="630.9" r="4.05" fill="#000000"/>
<circle cx="1398" cy="630.9" r="4.05" fill="#000000"/>
<circle cx="1404.2" cy="630.9" r="4.05" fill="#000000"/>
<circle cx="1410.3" cy="630.9" r="4.05" fill="#000000"/>
<circle cx="1416.4" cy="630.9" r="4.05" fill="#000000"/>
<circle cx="1422.3" cy="630.9" r="4.05" fill="#000000"/>
<path d="M1183.7,630.7H1228.3" stroke="#ED1C24" stroke-width="2.9"/>
<path d="M1249.6,630.7H1294.2" stroke="#ED1C24" stroke-width="2.9"/>
<path d="M1315.8,630.7H1360.4" stroke="#ED1C24" stroke-width="2.9"/>
<path d="M1381.9,630.7H1426.5" stroke="#ED1C24" stroke-width="2.9"/>
<text transform="translate(1213.8,646.9) rotate(-90)" x="-44.49" y="0" font-size="22" textLength="45.16" lengthAdjust="spacingAndGlyphs">BA.5</text>
<path d="M1185.35,711.9H1229.85" stroke="#000" stroke-width="2.1"/>
<text x="1201.6" y="736.1" font-size="22" textLength="12.25" lengthAdjust="spacingAndGlyphs">0</text>
<text transform="translate(1282.3,646.9) rotate(-90)" x="-44.49" y="0" font-size="22" textLength="45.16" lengthAdjust="spacingAndGlyphs">BA.5</text>
<path d="M1252.15,711.9H1296.65" stroke="#000" stroke-width="2.1"/>
<text x="1268.49" y="736.1" font-size="22" textLength="11.14" lengthAdjust="spacingAndGlyphs">4</text>
<text transform="translate(1348.7,646.9) rotate(-90)" x="-44.49" y="0" font-size="22" textLength="45.16" lengthAdjust="spacingAndGlyphs">BA.5</text>
<path d="M1318.95,711.9H1363.45" stroke="#000" stroke-width="2.1"/>
<text x="1335.2" y="736.1" font-size="22" textLength="12.25" lengthAdjust="spacingAndGlyphs">8</text>
<text transform="translate(1413.7,648.7) rotate(-90)" x="-56.55" y="0" font-size="22" textLength="57.83" lengthAdjust="spacingAndGlyphs">BQ1.1</text>
<path d="M1385.75,711.9H1430.25" stroke="#000" stroke-width="2.1"/>
<text x="1396.34" y="736.1" font-size="22" textLength="23.44" lengthAdjust="spacingAndGlyphs">12</text>
<text x="1607.25" y="438.9" font-size="22" textLength="86.01" lengthAdjust="spacingAndGlyphs">No boost</text>
<path d="M1511.7,440.5V630.8M1503.2,630.8H1799.4M1503.2,441.5H1511.7M1503.2,504.6H1511.7M1503.2,567.7H1511.7M1555.6,630.8v8.6M1621.6,630.8v8.6M1687.7,630.8v8.6M1753.8,630.8v8.6" stroke="#000" stroke-width="2.1" fill="none"/>
<text x="1499.2" y="448.7" font-size="20.5" text-anchor="end">10<tspan font-size="14.5" dy="-6.8">2</tspan></text>
<text x="1499.2" y="511.8" font-size="20.5" text-anchor="end">10<tspan font-size="14.5" dy="-6.8">1</tspan></text>
<text x="1499.2" y="574.9" font-size="20.5" text-anchor="end">10<tspan font-size="14.5" dy="-6.8">0</tspan></text>
<text x="1499.2" y="638" font-size="20.5" text-anchor="end">10<tspan font-size="14.5" dy="-6.8">−1</tspan></text>
<circle cx="1537.5" cy="630.8" r="4.05" fill="#000000"/>
<circle cx="1544.8" cy="630.8" r="4.05" fill="#000000"/>
<circle cx="1552" cy="630.8" r="4.05" fill="#000000"/>
<circle cx="1559.4" cy="630.8" r="4.05" fill="#000000"/>
<circle cx="1566.6" cy="630.8" r="4.05" fill="#000000"/>
<circle cx="1574" cy="630.8" r="4.05" fill="#000000"/>
<circle cx="1603.5" cy="630.8" r="4.05" fill="#000000"/>
<circle cx="1612.7" cy="630.8" r="4.05" fill="#000000"/>
<circle cx="1621.7" cy="630.8" r="4.05" fill="#000000"/>
<circle cx="1630.8" cy="630.8" r="4.05" fill="#000000"/>
<circle cx="1639.8" cy="630.8" r="4.05" fill="#000000"/>
<circle cx="1621.7" cy="611.7" r="4.05" fill="#000000"/>
<circle cx="1669.6" cy="630.8" r="4.05" fill="#000000"/>
<circle cx="1678.6" cy="630.8" r="4.05" fill="#000000"/>
<circle cx="1687.8" cy="630.8" r="4.05" fill="#000000"/>
<circle cx="1696.9" cy="630.8" r="4.05" fill="#000000"/>
<circle cx="1705.9" cy="630.8" r="4.05" fill="#000000"/>
<circle cx="1688.1" cy="601.7" r="4.05" fill="#000000"/>
<circle cx="1735.7" cy="630.8" r="4.05" fill="#000000"/>
<circle cx="1744.7" cy="630.8" r="4.05" fill="#000000"/>
<circle cx="1753.8" cy="630.8" r="4.05" fill="#000000"/>
<circle cx="1763" cy="630.8" r="4.05" fill="#000000"/>
<circle cx="1772" cy="630.8" r="4.05" fill="#000000"/>
<circle cx="1754.2" cy="616.3" r="4.05" fill="#000000"/>
<path d="M1533.3,630.6H1577.9" stroke="#ED1C24" stroke-width="2.9"/>
<path d="M1599.3,630.6H1643.9" stroke="#ED1C24" stroke-width="2.9"/>
<path d="M1665.4,630.6H1710" stroke="#ED1C24" stroke-width="2.9"/>
<path d="M1731.5,630.6H1776.1" stroke="#ED1C24" stroke-width="2.9"/>
<text transform="translate(1561.7,646.9) rotate(-90)" x="-44.49" y="0" font-size="22" textLength="45.16" lengthAdjust="spacingAndGlyphs">BA.5</text>
<path d="M1533.25,711.9H1577.75" stroke="#000" stroke-width="2.1"/>
<text x="1549.5" y="736.1" font-size="22" textLength="12.25" lengthAdjust="spacingAndGlyphs">0</text>
<text transform="translate(1630.2,646.9) rotate(-90)" x="-44.49" y="0" font-size="22" textLength="45.16" lengthAdjust="spacingAndGlyphs">BA.5</text>
<path d="M1600.05,711.9H1644.55" stroke="#000" stroke-width="2.1"/>
<text x="1616.39" y="736.1" font-size="22" textLength="11.14" lengthAdjust="spacingAndGlyphs">4</text>
<text transform="translate(1696.6,646.9) rotate(-90)" x="-44.49" y="0" font-size="22" textLength="45.16" lengthAdjust="spacingAndGlyphs">BA.5</text>
<path d="M1666.85,711.9H1711.35" stroke="#000" stroke-width="2.1"/>
<text x="1683.1" y="736.1" font-size="22" textLength="12.25" lengthAdjust="spacingAndGlyphs">8</text>
<text transform="translate(1761.6,648.7) rotate(-90)" x="-56.55" y="0" font-size="22" textLength="57.83" lengthAdjust="spacingAndGlyphs">BQ1.1</text>
<path d="M1733.65,711.9H1778.15" stroke="#000" stroke-width="2.1"/>
<text x="1744.24" y="736.1" font-size="22" textLength="23.44" lengthAdjust="spacingAndGlyphs">12</text>
<text x="1982.06" y="438.9" font-size="22" textLength="54.24" lengthAdjust="spacingAndGlyphs">Sham</text>
<path d="M1865.1,440.5V630.9M1856.6,630.9H2152.4M1856.6,441.5H1865.1M1856.6,504.63H1865.1M1856.6,567.77H1865.1M1908.7,630.9v8.6M1974.9,630.9v8.6M2041,630.9v8.6M2107.1,630.9v8.6" stroke="#000" stroke-width="2.1" fill="none"/>
<text x="1852.6" y="448.7" font-size="20.5" text-anchor="end">10<tspan font-size="14.5" dy="-6.8">2</tspan></text>
<text x="1852.6" y="511.83" font-size="20.5" text-anchor="end">10<tspan font-size="14.5" dy="-6.8">1</tspan></text>
<text x="1852.6" y="574.97" font-size="20.5" text-anchor="end">10<tspan font-size="14.5" dy="-6.8">0</tspan></text>
<text x="1852.6" y="638.1" font-size="20.5" text-anchor="end">10<tspan font-size="14.5" dy="-6.8">−1</tspan></text>
<circle cx="2088.6" cy="630.9" r="4.05" fill="#000000"/>
<circle cx="2094.8" cy="630.9" r="4.05" fill="#000000"/>
<circle cx="2101" cy="630.9" r="4.05" fill="#000000"/>
<circle cx="2107.1" cy="630.9" r="4.05" fill="#000000"/>
<circle cx="2113.3" cy="630.9" r="4.05" fill="#000000"/>
<circle cx="2119.5" cy="630.9" r="4.05" fill="#000000"/>
<circle cx="2125.6" cy="630.9" r="4.05" fill="#000000"/>
<path d="M2084.8,630.7H2129.4" stroke="#ED1C24" stroke-width="2.9"/>
<text transform="translate(1917.55,646.9) rotate(-90)" x="-44.49" y="0" font-size="22" textLength="45.16" lengthAdjust="spacingAndGlyphs">BA.5</text>
<path d="M1889.1,711.9H1933.6" stroke="#000" stroke-width="2.1"/>
<text x="1905.35" y="736.1" font-size="22" textLength="12.25" lengthAdjust="spacingAndGlyphs">0</text>
<text transform="translate(1986.05,646.9) rotate(-90)" x="-44.49" y="0" font-size="22" textLength="45.16" lengthAdjust="spacingAndGlyphs">BA.5</text>
<path d="M1955.9,711.9H2000.4" stroke="#000" stroke-width="2.1"/>
<text x="1972.24" y="736.1" font-size="22" textLength="11.14" lengthAdjust="spacingAndGlyphs">4</text>
<text transform="translate(2052.45,646.9) rotate(-90)" x="-44.49" y="0" font-size="22" textLength="45.16" lengthAdjust="spacingAndGlyphs">BA.5</text>
<path d="M2022.7,711.9H2067.2" stroke="#000" stroke-width="2.1"/>
<text x="2038.95" y="736.1" font-size="22" textLength="12.25" lengthAdjust="spacingAndGlyphs">8</text>
<text transform="translate(2117.45,648.7) rotate(-90)" x="-56.55" y="0" font-size="22" textLength="57.83" lengthAdjust="spacingAndGlyphs">BQ1.1</text>
<path d="M2089.5,711.9H2134" stroke="#000" stroke-width="2.1"/>
<text x="2100.09" y="736.1" font-size="22" textLength="23.44" lengthAdjust="spacingAndGlyphs">12</text>
<text x="-0.04" y="779.5" font-size="33.5" font-weight="bold" textLength="21.32" lengthAdjust="spacingAndGlyphs">c</text>
<text x="41.09" y="779.1" font-size="22" textLength="108.77" lengthAdjust="spacingAndGlyphs">PBMC CD8</text>
<text x="196.4" y="809.7" font-size="22" textLength="88.95" lengthAdjust="spacingAndGlyphs">Ad26 i.m.</text>
<path d="M100.6,809.8V1001.5M92.1,1001.5H387.7M92.1,810.8H100.6M92.1,874.37H100.6M92.1,937.93H100.6M115.6,1001.5v8.6M138.9,1001.5v8.6M162,1001.5v8.6M185.4,1001.5v8.6M208.5,1001.5v8.6M231.8,1001.5v8.6M254.9,1001.5v8.6M278.5,1001.5v8.6M301.5,1001.5v8.6M324.8,1001.5v8.6M348.1,1001.5v8.6M371.1,1001.5v8.6" stroke="#000" stroke-width="2.1" fill="none"/>
<text x="88.1" y="818" font-size="20.5" text-anchor="end">10<tspan font-size="14.5" dy="-6.8">1</tspan></text>
<text x="88.1" y="881.57" font-size="20.5" text-anchor="end">10<tspan font-size="14.5" dy="-6.8">0</tspan></text>
<text x="88.1" y="945.13" font-size="20.5" text-anchor="end">10<tspan font-size="14.5" dy="-6.8">−1</tspan></text>
<text x="88.1" y="1008.7" font-size="20.5" text-anchor="end">10<tspan font-size="14.5" dy="-6.8">−2</tspan></text>
<circle cx="111.9" cy="1001.5" r="4.05" fill="#3A55A5"/>
<circle cx="115.6" cy="1001.5" r="4.05" fill="#3A55A5"/>
<circle cx="119.3" cy="1001.5" r="4.05" fill="#3A55A5"/>
<circle cx="135.2" cy="1001.5" r="4.05" fill="#68BD45"/>
<circle cx="138.9" cy="1001.5" r="4.05" fill="#68BD45"/>
<circle cx="142.6" cy="1001.5" r="4.05" fill="#68BD45"/>
<circle cx="158.3" cy="1001.5" r="4.05" fill="#7B2A83"/>
<circle cx="162" cy="1001.5" r="4.05" fill="#7B2A83"/>
<circle cx="165.7" cy="1001.5" r="4.05" fill="#7B2A83"/>
<circle cx="115.6" cy="947.9" r="4.05" fill="#3A55A5"/>
<circle cx="115.6" cy="959.6" r="4.05" fill="#3A55A5"/>
<circle cx="113.6" cy="995.7" r="4.05" fill="#3A55A5"/>
<circle cx="138.9" cy="935.6" r="4.05" fill="#68BD45"/>
<circle cx="138.9" cy="957.8" r="4.05" fill="#68BD45"/>
<circle cx="162" cy="935.6" r="4.05" fill="#7B2A83"/>
<circle cx="162" cy="954.8" r="4.05" fill="#7B2A83"/>
<circle cx="204.6" cy="912" r="4.05" fill="#3A55A5"/>
<circle cx="212.4" cy="916.3" r="4.05" fill="#3A55A5"/>
<circle cx="204.6" cy="932.9" r="4.05" fill="#3A55A5"/>
<circle cx="212.4" cy="937.9" r="4.05" fill="#3A55A5"/>
<circle cx="204.6" cy="957.4" r="4.05" fill="#3A55A5"/>
<circle cx="212.4" cy="957.4" r="4.05" fill="#3A55A5"/>
<circle cx="208.5" cy="981.3" r="4.05" fill="#3A55A5"/>
<circle cx="227.9" cy="918" r="4.05" fill="#68BD45"/>
<circle cx="235.8" cy="918.9" r="4.05" fill="#68BD45"/>
<circle cx="231.8" cy="933.2" r="4.05" fill="#68BD45"/>
<circle cx="235.8" cy="949.6" r="4.05" fill="#68BD45"/>
<circle cx="227.9" cy="953.8" r="4.05" fill="#68BD45"/>
<circle cx="231.8" cy="961.8" r="4.05" fill="#68BD45"/>
<circle cx="231.8" cy="976.5" r="4.05" fill="#68BD45"/>
<circle cx="253.1" cy="926.8" r="4.05" fill="#7B2A83"/>
<circle cx="257.1" cy="925" r="4.05" fill="#7B2A83"/>
<circle cx="254.9" cy="935.7" r="4.05" fill="#7B2A83"/>
<circle cx="250.7" cy="966.4" r="4.05" fill="#7B2A83"/>
<circle cx="254.9" cy="972.5" r="4.05" fill="#7B2A83"/>
<circle cx="258.9" cy="971.5" r="4.05" fill="#7B2A83"/>
<circle cx="254.9" cy="985.5" r="4.05" fill="#7B2A83"/>
<circle cx="301.5" cy="884" r="4.05" fill="#3A55A5"/>
<circle cx="305.5" cy="911.7" r="4.05" fill="#3A55A5"/>
<circle cx="297.8" cy="918.9" r="4.05" fill="#3A55A5"/>
<circle cx="301.5" cy="938" r="4.05" fill="#3A55A5"/>
<circle cx="301.5" cy="952.7" r="4.05" fill="#3A55A5"/>
<circle cx="301.5" cy="962.2" r="4.05" fill="#3A55A5"/>
<circle cx="301.5" cy="1001.6" r="4.05" fill="#3A55A5"/>
<circle cx="324.8" cy="887.2" r="4.05" fill="#68BD45"/>
<circle cx="328.5" cy="920.3" r="4.05" fill="#68BD45"/>
<circle cx="320.8" cy="924.5" r="4.05" fill="#68BD45"/>
<circle cx="324.8" cy="926.8" r="4.05" fill="#68BD45"/>
<circle cx="324.8" cy="944.1" r="4.05" fill="#68BD45"/>
<circle cx="324.8" cy="962.7" r="4.05" fill="#68BD45"/>
<circle cx="324.8" cy="1001.6" r="4.05" fill="#68BD45"/>
<circle cx="348.1" cy="891.7" r="4.05" fill="#7B2A83"/>
<circle cx="343.9" cy="921.7" r="4.05" fill="#7B2A83"/>
<circle cx="351.8" cy="920.5" r="4.05" fill="#7B2A83"/>
<circle cx="348.1" cy="931" r="4.05" fill="#7B2A83"/>
<circle cx="348.1" cy="943.4" r="4.05" fill="#7B2A83"/>
<circle cx="348.1" cy="965.5" r="4.05" fill="#7B2A83"/>
<circle cx="348.1" cy="1001.6" r="4.05" fill="#7B2A83"/>
<circle cx="371.1" cy="886.6" r="4.05" fill="#000000"/>
<circle cx="367.2" cy="920.6" r="4.05" fill="#000000"/>
<circle cx="375.1" cy="919.1" r="4.05" fill="#000000"/>
<circle cx="375.1" cy="935.5" r="4.05" fill="#000000"/>
<circle cx="367.2" cy="942" r="4.05" fill="#000000"/>
<circle cx="371.1" cy="975.5" r="4.05" fill="#000000"/>
<circle cx="371.1" cy="1001.6" r="4.05" fill="#000000"/>
<path d="M107.9,1001.5H123.3" stroke="#ED1C24" stroke-width="2.9"/>
<path d="M131.2,1001.5H146.6" stroke="#ED1C24" stroke-width="2.9"/>
<path d="M154.3,1001.5H169.7" stroke="#ED1C24" stroke-width="2.9"/>
<path d="M200.8,938.2H216.2" stroke="#ED1C24" stroke-width="2.9"/>
<path d="M224.1,950.1H239.5" stroke="#ED1C24" stroke-width="2.9"/>
<path d="M247.2,966.6H262.6" stroke="#ED1C24" stroke-width="2.9"/>
<path d="M293.8,938.3H309.2" stroke="#ED1C24" stroke-width="2.9"/>
<path d="M317.1,927H332.5" stroke="#ED1C24" stroke-width="2.9"/>
<path d="M340.4,931.2H355.8" stroke="#ED1C24" stroke-width="2.9"/>
<path d="M363.4,935.7H378.8" stroke="#ED1C24" stroke-width="2.9"/>
<text transform="translate(121.8,1021.4) rotate(-90)" x="-39.9" y="0" font-size="22" textLength="40.65" lengthAdjust="spacingAndGlyphs">WA1</text>
<text transform="translate(145.2,1021.4) rotate(-90)" x="-41.26" y="0" font-size="22" textLength="41.87" lengthAdjust="spacingAndGlyphs">BA.1</text>
<text transform="translate(168.6,1018.9) rotate(-90)" x="-43.76" y="0" font-size="22" textLength="44.42" lengthAdjust="spacingAndGlyphs">BA.5</text>
<text transform="translate(190.8,1021.4) rotate(-90)" x="-55.21" y="0" font-size="22" textLength="56.45" lengthAdjust="spacingAndGlyphs">BQ1.1</text>
<text transform="translate(215.4,1021.4) rotate(-90)" x="-39.9" y="0" font-size="22" textLength="40.65" lengthAdjust="spacingAndGlyphs">WA1</text>
<text transform="translate(238.8,1021.4) rotate(-90)" x="-41.26" y="0" font-size="22" textLength="41.87" lengthAdjust="spacingAndGlyphs">BA.1</text>
<text transform="translate(262.2,1018.9) rotate(-90)" x="-43.76" y="0" font-size="22" textLength="44.42" lengthAdjust="spacingAndGlyphs">BA.5</text>
<text transform="translate(284.4,1021.4) rotate(-90)" x="-55.21" y="0" font-size="22" textLength="56.45" lengthAdjust="spacingAndGlyphs">BQ1.1</text>
<text transform="translate(309,1021.4) rotate(-90)" x="-39.9" y="0" font-size="22" textLength="40.65" lengthAdjust="spacingAndGlyphs">WA1</text>
<text transform="translate(332.4,1021.4) rotate(-90)" x="-41.26" y="0" font-size="22" textLength="41.87" lengthAdjust="spacingAndGlyphs">BA.1</text>
<text transform="translate(355.8,1018.9) rotate(-90)" x="-43.76" y="0" font-size="22" textLength="44.42" lengthAdjust="spacingAndGlyphs">BA.5</text>
<text transform="translate(378,1021.4) rotate(-90)" x="-55.21" y="0" font-size="22" textLength="56.45" lengthAdjust="spacingAndGlyphs">BQ1.1</text>
<path d="M107.9,1088.6H194.9" stroke="#000" stroke-width="2.1"/>
<text x="141.7" y="1114.5" font-size="22" textLength="12.25" lengthAdjust="spacingAndGlyphs">0</text>
<path d="M202.9,1088.6H289.9" stroke="#000" stroke-width="2.1"/>
<text x="236" y="1114.5" font-size="22" textLength="12.25" lengthAdjust="spacingAndGlyphs">2</text>
<path d="M297.9,1088.6H384.9" stroke="#000" stroke-width="2.1"/>
<text x="327.78" y="1114.5" font-size="22" textLength="23.55" lengthAdjust="spacingAndGlyphs">12</text>
<text x="22.1" y="1110.6" font-size="22" textLength="53.1" lengthAdjust="spacingAndGlyphs">Week</text>
<text transform="translate(38.6,906.15) rotate(-90)" font-size="21" text-anchor="middle">IFN<tspan font-size="14" dy="-7">+</tspan><tspan dy="7">CD8</tspan><tspan font-size="14" dy="-7">+</tspan><tspan dy="7"> T cells</tspan></text>
<text x="562.1" y="809.7" font-size="22" textLength="82.76" lengthAdjust="spacingAndGlyphs">Ad26 i.n.</text>
<path d="M455.8,809.8V1001.3M447.3,1001.3H742.7M447.3,810.8H455.8M447.3,874.3H455.8M447.3,937.8H455.8M471.1,1001.3v8.6M494.4,1001.3v8.6M517.6,1001.3v8.6M540.8,1001.3v8.6M564,1001.3v8.6M587.2,1001.3v8.6M610.5,1001.3v8.6M633.6,1001.3v8.6M656.9,1001.3v8.6M680.1,1001.3v8.6M703.3,1001.3v8.6M726.5,1001.3v8.6" stroke="#000" stroke-width="2.1" fill="none"/>
<text x="443.3" y="818" font-size="20.5" text-anchor="end">10<tspan font-size="14.5" dy="-6.8">1</tspan></text>
<text x="443.3" y="881.5" font-size="20.5" text-anchor="end">10<tspan font-size="14.5" dy="-6.8">0</tspan></text>
<text x="443.3" y="945" font-size="20.5" text-anchor="end">10<tspan font-size="14.5" dy="-6.8">−1</tspan></text>
<text x="443.3" y="1008.5" font-size="20.5" text-anchor="end">10<tspan font-size="14.5" dy="-6.8">−2</tspan></text>
<circle cx="467.4" cy="1001.3" r="4.05" fill="#3A55A5"/>
<circle cx="471.1" cy="1001.3" r="4.05" fill="#3A55A5"/>
<circle cx="474.8" cy="1001.3" r="4.05" fill="#3A55A5"/>
<circle cx="490.7" cy="1001.3" r="4.05" fill="#68BD45"/>
<circle cx="494.4" cy="1001.3" r="4.05" fill="#68BD45"/>
<circle cx="498.1" cy="1001.3" r="4.05" fill="#68BD45"/>
<circle cx="513.9" cy="1001.3" r="4.05" fill="#7B2A83"/>
<circle cx="517.6" cy="1001.3" r="4.05" fill="#7B2A83"/>
<circle cx="521.3" cy="1001.3" r="4.05" fill="#7B2A83"/>
<circle cx="560.3" cy="1001.3" r="4.05" fill="#3A55A5"/>
<circle cx="564" cy="1001.3" r="4.05" fill="#3A55A5"/>
<circle cx="567.7" cy="1001.3" r="4.05" fill="#3A55A5"/>
<circle cx="583.5" cy="1001.3" r="4.05" fill="#68BD45"/>
<circle cx="587.2" cy="1001.3" r="4.05" fill="#68BD45"/>
<circle cx="590.9" cy="1001.3" r="4.05" fill="#68BD45"/>
<circle cx="606.8" cy="1001.3" r="4.05" fill="#7B2A83"/>
<circle cx="610.5" cy="1001.3" r="4.05" fill="#7B2A83"/>
<circle cx="614.2" cy="1001.3" r="4.05" fill="#7B2A83"/>
<circle cx="491.4" cy="998.5" r="4.05" fill="#68BD45"/>
<circle cx="514.9" cy="996.3" r="4.05" fill="#7B2A83"/>
<circle cx="564" cy="939.9" r="4.05" fill="#3A55A5"/>
<circle cx="564" cy="968" r="4.05" fill="#3A55A5"/>
<circle cx="564" cy="992.6" r="4.05" fill="#3A55A5"/>
<circle cx="587.2" cy="931.1" r="4.05" fill="#68BD45"/>
<circle cx="587.2" cy="966.6" r="4.05" fill="#68BD45"/>
<circle cx="610.5" cy="933.2" r="4.05" fill="#7B2A83"/>
<circle cx="610.5" cy="974.5" r="4.05" fill="#7B2A83"/>
<circle cx="656.9" cy="933.2" r="4.05" fill="#3A55A5"/>
<circle cx="652.9" cy="958.3" r="4.05" fill="#3A55A5"/>
<circle cx="660.7" cy="959.3" r="4.05" fill="#3A55A5"/>
<circle cx="656.9" cy="961.3" r="4.05" fill="#3A55A5"/>
<circle cx="654.9" cy="974.3" r="4.05" fill="#3A55A5"/>
<circle cx="658.9" cy="976.3" r="4.05" fill="#3A55A5"/>
<circle cx="656.9" cy="992.5" r="4.05" fill="#3A55A5"/>
<circle cx="680.1" cy="933.2" r="4.05" fill="#68BD45"/>
<circle cx="676.3" cy="964.1" r="4.05" fill="#68BD45"/>
<circle cx="684" cy="967" r="4.05" fill="#68BD45"/>
<circle cx="676.3" cy="972.8" r="4.05" fill="#68BD45"/>
<circle cx="676.3" cy="990.5" r="4.05" fill="#68BD45"/>
<circle cx="684" cy="996.7" r="4.05" fill="#68BD45"/>
<circle cx="676.3" cy="1001.5" r="4.05" fill="#68BD45"/>
<circle cx="703.3" cy="948.6" r="4.05" fill="#7B2A83"/>
<circle cx="699.8" cy="974.3" r="4.05" fill="#7B2A83"/>
<circle cx="706.8" cy="973.8" r="4.05" fill="#7B2A83"/>
<circle cx="703.3" cy="981.3" r="4.05" fill="#7B2A83"/>
<circle cx="705.8" cy="998.7" r="4.05" fill="#7B2A83"/>
<circle cx="701.3" cy="1001.5" r="4.05" fill="#7B2A83"/>
<circle cx="726.5" cy="962.8" r="4.05" fill="#000000"/>
<circle cx="722.7" cy="978.8" r="4.05" fill="#000000"/>
<circle cx="730.2" cy="976.8" r="4.05" fill="#000000"/>
<circle cx="726.5" cy="988.9" r="4.05" fill="#000000"/>
<circle cx="726.5" cy="1001.5" r="4.05" fill="#000000"/>
<path d="M463.4,1001.3H478.8" stroke="#ED1C24" stroke-width="2.9"/>
<path d="M486.7,1001.3H502.1" stroke="#ED1C24" stroke-width="2.9"/>
<path d="M509.9,1001.3H525.3" stroke="#ED1C24" stroke-width="2.9"/>
<path d="M556.3,1001.3H571.7" stroke="#ED1C24" stroke-width="2.9"/>
<path d="M579.5,1001.3H594.9" stroke="#ED1C24" stroke-width="2.9"/>
<path d="M602.8,1001.3H618.2" stroke="#ED1C24" stroke-width="2.9"/>
<path d="M649.2,960.3H664.6" stroke="#ED1C24" stroke-width="2.9"/>
<path d="M672.4,972.5H687.8" stroke="#ED1C24" stroke-width="2.9"/>
<path d="M695.6,975.5H711" stroke="#ED1C24" stroke-width="2.9"/>
<path d="M718.8,978.6H734.2" stroke="#ED1C24" stroke-width="2.9"/>
<text transform="translate(477.5,1021.2) rotate(-90)" x="-39.9" y="0" font-size="22" textLength="40.65" lengthAdjust="spacingAndGlyphs">WA1</text>
<text transform="translate(500.9,1021.2) rotate(-90)" x="-41.26" y="0" font-size="22" textLength="41.87" lengthAdjust="spacingAndGlyphs">BA.1</text>
<text transform="translate(524.3,1018.7) rotate(-90)" x="-43.76" y="0" font-size="22" textLength="44.42" lengthAdjust="spacingAndGlyphs">BA.5</text>
<text transform="translate(546.5,1021.2) rotate(-90)" x="-55.21" y="0" font-size="22" textLength="56.45" lengthAdjust="spacingAndGlyphs">BQ1.1</text>
<text transform="translate(571.1,1021.2) rotate(-90)" x="-39.9" y="0" font-size="22" textLength="40.65" lengthAdjust="spacingAndGlyphs">WA1</text>
<text transform="translate(594.5,1021.2) rotate(-90)" x="-41.26" y="0" font-size="22" textLength="41.87" lengthAdjust="spacingAndGlyphs">BA.1</text>
<text transform="translate(617.9,1018.7) rotate(-90)" x="-43.76" y="0" font-size="22" textLength="44.42" lengthAdjust="spacingAndGlyphs">BA.5</text>
<text transform="translate(640.1,1021.2) rotate(-90)" x="-55.21" y="0" font-size="22" textLength="56.45" lengthAdjust="spacingAndGlyphs">BQ1.1</text>
<text transform="translate(664.7,1021.2) rotate(-90)" x="-39.9" y="0" font-size="22" textLength="40.65" lengthAdjust="spacingAndGlyphs">WA1</text>
<text transform="translate(688.1,1021.2) rotate(-90)" x="-41.26" y="0" font-size="22" textLength="41.87" lengthAdjust="spacingAndGlyphs">BA.1</text>
<text transform="translate(711.5,1018.7) rotate(-90)" x="-43.76" y="0" font-size="22" textLength="44.42" lengthAdjust="spacingAndGlyphs">BA.5</text>
<text transform="translate(733.7,1021.2) rotate(-90)" x="-55.21" y="0" font-size="22" textLength="56.45" lengthAdjust="spacingAndGlyphs">BQ1.1</text>
<path d="M463.6,1088.6H550.6" stroke="#000" stroke-width="2.1"/>
<text x="497.4" y="1114.5" font-size="22" textLength="12.25" lengthAdjust="spacingAndGlyphs">0</text>
<path d="M558.6,1088.6H645.6" stroke="#000" stroke-width="2.1"/>
<text x="591.7" y="1114.5" font-size="22" textLength="12.25" lengthAdjust="spacingAndGlyphs">2</text>
<path d="M653.6,1088.6H740.6" stroke="#000" stroke-width="2.1"/>
<text x="683.48" y="1114.5" font-size="22" textLength="23.55" lengthAdjust="spacingAndGlyphs">12</text>
<text x="912.7" y="809.7" font-size="22" textLength="77.35" lengthAdjust="spacingAndGlyphs">Ad26 i.t.</text>
<path d="M808,809.8V1001.5M799.5,1001.5H1094.8M799.5,810.8H808M799.5,874.37H808M799.5,937.93H808M823.2,1001.5v8.6M846.5,1001.5v8.6M869.6,1001.5v8.6M892.8,1001.5v8.6M915.9,1001.5v8.6M939.3,1001.5v8.6M962.7,1001.5v8.6M985.8,1001.5v8.6M1009,1001.5v8.6M1032.4,1001.5v8.6M1055.7,1001.5v8.6M1078.8,1001.5v8.6" stroke="#000" stroke-width="2.1" fill="none"/>
<text x="795.5" y="818" font-size="20.5" text-anchor="end">10<tspan font-size="14.5" dy="-6.8">1</tspan></text>
<text x="795.5" y="881.57" font-size="20.5" text-anchor="end">10<tspan font-size="14.5" dy="-6.8">0</tspan></text>
<text x="795.5" y="945.13" font-size="20.5" text-anchor="end">10<tspan font-size="14.5" dy="-6.8">−1</tspan></text>
<text x="795.5" y="1008.7" font-size="20.5" text-anchor="end">10<tspan font-size="14.5" dy="-6.8">−2</tspan></text>
<circle cx="819.5" cy="1001.5" r="4.05" fill="#3A55A5"/>
<circle cx="823.2" cy="1001.5" r="4.05" fill="#3A55A5"/>
<circle cx="826.9" cy="1001.5" r="4.05" fill="#3A55A5"/>
<circle cx="842.8" cy="1001.5" r="4.05" fill="#68BD45"/>
<circle cx="846.5" cy="1001.5" r="4.05" fill="#68BD45"/>
<circle cx="850.2" cy="1001.5" r="4.05" fill="#68BD45"/>
<circle cx="865.9" cy="1001.5" r="4.05" fill="#7B2A83"/>
<circle cx="869.6" cy="1001.5" r="4.05" fill="#7B2A83"/>
<circle cx="873.3" cy="1001.5" r="4.05" fill="#7B2A83"/>
<circle cx="867" cy="998.7" r="4.05" fill="#7B2A83"/>
<circle cx="920.2" cy="895.4" r="4.05" fill="#3A55A5"/>
<circle cx="912.2" cy="901.2" r="4.05" fill="#3A55A5"/>
<circle cx="915.9" cy="922" r="4.05" fill="#3A55A5"/>
<circle cx="915.9" cy="932.9" r="4.05" fill="#3A55A5"/>
<circle cx="915.9" cy="967.2" r="4.05" fill="#3A55A5"/>
<circle cx="915.9" cy="977.6" r="4.05" fill="#3A55A5"/>
<circle cx="939.3" cy="906.8" r="4.05" fill="#68BD45"/>
<circle cx="935.4" cy="916.3" r="4.05" fill="#68BD45"/>
<circle cx="943.2" cy="920.2" r="4.05" fill="#68BD45"/>
<circle cx="939.3" cy="928.9" r="4.05" fill="#68BD45"/>
<circle cx="943.2" cy="975.4" r="4.05" fill="#68BD45"/>
<circle cx="935.4" cy="982.8" r="4.05" fill="#68BD45"/>
<circle cx="962.7" cy="906.8" r="4.05" fill="#7B2A83"/>
<circle cx="962.7" cy="918.9" r="4.05" fill="#7B2A83"/>
<circle cx="966.6" cy="930.2" r="4.05" fill="#7B2A83"/>
<circle cx="958.6" cy="937.9" r="4.05" fill="#7B2A83"/>
<circle cx="962.7" cy="966.2" r="4.05" fill="#7B2A83"/>
<circle cx="962.7" cy="978.6" r="4.05" fill="#7B2A83"/>
<circle cx="1009" cy="899" r="4.05" fill="#3A55A5"/>
<circle cx="1009" cy="913.7" r="4.05" fill="#3A55A5"/>
<circle cx="1009" cy="921.8" r="4.05" fill="#3A55A5"/>
<circle cx="1005.1" cy="937.9" r="4.05" fill="#3A55A5"/>
<circle cx="1013.1" cy="943.4" r="4.05" fill="#3A55A5"/>
<circle cx="1005.1" cy="949" r="4.05" fill="#3A55A5"/>
<circle cx="1032.4" cy="900.5" r="4.05" fill="#68BD45"/>
<circle cx="1028.2" cy="917.6" r="4.05" fill="#68BD45"/>
<circle cx="1036.2" cy="920.2" r="4.05" fill="#68BD45"/>
<circle cx="1028.2" cy="938.1" r="4.05" fill="#68BD45"/>
<circle cx="1036.2" cy="938.1" r="4.05" fill="#68BD45"/>
<circle cx="1032.4" cy="946.9" r="4.05" fill="#68BD45"/>
<circle cx="1051.6" cy="912.7" r="4.05" fill="#7B2A83"/>
<circle cx="1059.4" cy="913.7" r="4.05" fill="#7B2A83"/>
<circle cx="1051.6" cy="937.5" r="4.05" fill="#7B2A83"/>
<circle cx="1059.4" cy="944" r="4.05" fill="#7B2A83"/>
<circle cx="1055.5" cy="955.8" r="4.05" fill="#7B2A83"/>
<circle cx="1082.7" cy="920.2" r="4.05" fill="#000000"/>
<circle cx="1074.9" cy="927" r="4.05" fill="#000000"/>
<circle cx="1082.7" cy="939.7" r="4.05" fill="#000000"/>
<circle cx="1074.9" cy="942.3" r="4.05" fill="#000000"/>
<circle cx="1078.8" cy="950.9" r="4.05" fill="#000000"/>
<circle cx="1078.8" cy="972.4" r="4.05" fill="#000000"/>
<path d="M815.5,1001.5H830.9" stroke="#ED1C24" stroke-width="2.9"/>
<path d="M838.8,1001.5H854.2" stroke="#ED1C24" stroke-width="2.9"/>
<path d="M861.9,1001.5H877.3" stroke="#ED1C24" stroke-width="2.9"/>
<path d="M908.2,926.7H923.6" stroke="#ED1C24" stroke-width="2.9"/>
<path d="M931.6,924.4H947" stroke="#ED1C24" stroke-width="2.9"/>
<path d="M955,934.3H970.4" stroke="#ED1C24" stroke-width="2.9"/>
<path d="M1001.3,928.7H1016.7" stroke="#ED1C24" stroke-width="2.9"/>
<path d="M1024.7,927.8H1040.1" stroke="#ED1C24" stroke-width="2.9"/>
<path d="M1048,938.1H1063.4" stroke="#ED1C24" stroke-width="2.9"/>
<path d="M1071.1,941H1086.5" stroke="#ED1C24" stroke-width="2.9"/>
<text transform="translate(829.3,1021.4) rotate(-90)" x="-39.9" y="0" font-size="22" textLength="40.65" lengthAdjust="spacingAndGlyphs">WA1</text>
<text transform="translate(852.7,1021.4) rotate(-90)" x="-41.26" y="0" font-size="22" textLength="41.87" lengthAdjust="spacingAndGlyphs">BA.1</text>
<text transform="translate(876.1,1018.9) rotate(-90)" x="-43.76" y="0" font-size="22" textLength="44.42" lengthAdjust="spacingAndGlyphs">BA.5</text>
<text transform="translate(898.3,1021.4) rotate(-90)" x="-55.21" y="0" font-size="22" textLength="56.45" lengthAdjust="spacingAndGlyphs">BQ1.1</text>
<text transform="translate(922.9,1021.4) rotate(-90)" x="-39.9" y="0" font-size="22" textLength="40.65" lengthAdjust="spacingAndGlyphs">WA1</text>
<text transform="translate(946.3,1021.4) rotate(-90)" x="-41.26" y="0" font-size="22" textLength="41.87" lengthAdjust="spacingAndGlyphs">BA.1</text>
<text transform="translate(969.7,1018.9) rotate(-90)" x="-43.76" y="0" font-size="22" textLength="44.42" lengthAdjust="spacingAndGlyphs">BA.5</text>
<text transform="translate(991.9,1021.4) rotate(-90)" x="-55.21" y="0" font-size="22" textLength="56.45" lengthAdjust="spacingAndGlyphs">BQ1.1</text>
<text transform="translate(1016.5,1021.4) rotate(-90)" x="-39.9" y="0" font-size="22" textLength="40.65" lengthAdjust="spacingAndGlyphs">WA1</text>
<text transform="translate(1039.9,1021.4) rotate(-90)" x="-41.26" y="0" font-size="22" textLength="41.87" lengthAdjust="spacingAndGlyphs">BA.1</text>
<text transform="translate(1063.3,1018.9) rotate(-90)" x="-43.76" y="0" font-size="22" textLength="44.42" lengthAdjust="spacingAndGlyphs">BA.5</text>
<text transform="translate(1085.5,1021.4) rotate(-90)" x="-55.21" y="0" font-size="22" textLength="56.45" lengthAdjust="spacingAndGlyphs">BQ1.1</text>
<path d="M815.4,1088.6H902.4" stroke="#000" stroke-width="2.1"/>
<text x="849.2" y="1114.5" font-size="22" textLength="12.25" lengthAdjust="spacingAndGlyphs">0</text>
<path d="M910.4,1088.6H997.4" stroke="#000" stroke-width="2.1"/>
<text x="943.5" y="1114.5" font-size="22" textLength="12.25" lengthAdjust="spacingAndGlyphs">2</text>
<path d="M1005.4,1088.6H1092.4" stroke="#000" stroke-width="2.1"/>
<text x="1035.28" y="1114.5" font-size="22" textLength="23.55" lengthAdjust="spacingAndGlyphs">12</text>
<text x="1253.17" y="807.4" font-size="22" textLength="95.59" lengthAdjust="spacingAndGlyphs">mRNA i.n.</text>
<path d="M1162,809.8V1002.1M1153.5,1002.1H1449M1153.5,810.8H1162M1153.5,874.57H1162M1153.5,938.33H1162M1177.4,1002.1v8.6M1200.6,1002.1v8.6M1223.9,1002.1v8.6M1247,1002.1v8.6M1270.3,1002.1v8.6M1293.5,1002.1v8.6M1316.7,1002.1v8.6M1339.9,1002.1v8.6M1363.1,1002.1v8.6M1386.4,1002.1v8.6M1409.7,1002.1v8.6M1432.9,1002.1v8.6" stroke="#000" stroke-width="2.1" fill="none"/>
<text x="1149.5" y="818" font-size="20.5" text-anchor="end">10<tspan font-size="14.5" dy="-6.8">1</tspan></text>
<text x="1149.5" y="881.77" font-size="20.5" text-anchor="end">10<tspan font-size="14.5" dy="-6.8">0</tspan></text>
<text x="1149.5" y="945.53" font-size="20.5" text-anchor="end">10<tspan font-size="14.5" dy="-6.8">−1</tspan></text>
<text x="1149.5" y="1009.3" font-size="20.5" text-anchor="end">10<tspan font-size="14.5" dy="-6.8">−2</tspan></text>
<circle cx="1173.7" cy="1002.1" r="4.05" fill="#3A55A5"/>
<circle cx="1177.4" cy="1002.1" r="4.05" fill="#3A55A5"/>
<circle cx="1181.1" cy="1002.1" r="4.05" fill="#3A55A5"/>
<circle cx="1196.9" cy="1002.1" r="4.05" fill="#68BD45"/>
<circle cx="1200.6" cy="1002.1" r="4.05" fill="#68BD45"/>
<circle cx="1204.3" cy="1002.1" r="4.05" fill="#68BD45"/>
<circle cx="1220.2" cy="1002.1" r="4.05" fill="#7B2A83"/>
<circle cx="1223.9" cy="1002.1" r="4.05" fill="#7B2A83"/>
<circle cx="1227.6" cy="1002.1" r="4.05" fill="#7B2A83"/>
<circle cx="1266.6" cy="1002.1" r="4.05" fill="#3A55A5"/>
<circle cx="1270.3" cy="1002.1" r="4.05" fill="#3A55A5"/>
<circle cx="1274" cy="1002.1" r="4.05" fill="#3A55A5"/>
<circle cx="1289.8" cy="1002.1" r="4.05" fill="#68BD45"/>
<circle cx="1293.5" cy="1002.1" r="4.05" fill="#68BD45"/>
<circle cx="1297.2" cy="1002.1" r="4.05" fill="#68BD45"/>
<circle cx="1313" cy="1002.1" r="4.05" fill="#7B2A83"/>
<circle cx="1316.7" cy="1002.1" r="4.05" fill="#7B2A83"/>
<circle cx="1320.4" cy="1002.1" r="4.05" fill="#7B2A83"/>
<circle cx="1359.4" cy="1002.1" r="4.05" fill="#3A55A5"/>
<circle cx="1363.1" cy="1002.1" r="4.05" fill="#3A55A5"/>
<circle cx="1366.8" cy="1002.1" r="4.05" fill="#3A55A5"/>
<circle cx="1382.7" cy="1002.1" r="4.05" fill="#68BD45"/>
<circle cx="1386.4" cy="1002.1" r="4.05" fill="#68BD45"/>
<circle cx="1390.1" cy="1002.1" r="4.05" fill="#68BD45"/>
<circle cx="1406" cy="1002.1" r="4.05" fill="#7B2A83"/>
<circle cx="1409.7" cy="1002.1" r="4.05" fill="#7B2A83"/>
<circle cx="1413.4" cy="1002.1" r="4.05" fill="#7B2A83"/>
<circle cx="1429.2" cy="1002.1" r="4.05" fill="#000000"/>
<circle cx="1432.9" cy="1002.1" r="4.05" fill="#000000"/>
<circle cx="1436.6" cy="1002.1" r="4.05" fill="#000000"/>
<circle cx="1270.3" cy="956.9" r="4.05" fill="#3A55A5"/>
<circle cx="1293.5" cy="963.5" r="4.05" fill="#68BD45"/>
<circle cx="1294.5" cy="987.5" r="4.05" fill="#68BD45"/>
<circle cx="1292.1" cy="991.3" r="4.05" fill="#68BD45"/>
<circle cx="1291.7" cy="999.3" r="4.05" fill="#68BD45"/>
<circle cx="1316.7" cy="968.8" r="4.05" fill="#7B2A83"/>
<circle cx="1361.8" cy="958.6" r="4.05" fill="#3A55A5"/>
<circle cx="1364.4" cy="961.2" r="4.05" fill="#3A55A5"/>
<circle cx="1363.1" cy="969.6" r="4.05" fill="#3A55A5"/>
<circle cx="1386.4" cy="961.6" r="4.05" fill="#68BD45"/>
<circle cx="1386.4" cy="973.2" r="4.05" fill="#68BD45"/>
<circle cx="1386.4" cy="986.2" r="4.05" fill="#68BD45"/>
<circle cx="1407.1" cy="970.1" r="4.05" fill="#7B2A83"/>
<circle cx="1409.7" cy="968.2" r="4.05" fill="#7B2A83"/>
<circle cx="1412.3" cy="969.4" r="4.05" fill="#7B2A83"/>
<circle cx="1432.9" cy="963.6" r="4.05" fill="#000000"/>
<circle cx="1434.1" cy="983.5" r="4.05" fill="#000000"/>
<circle cx="1431.5" cy="989.8" r="4.05" fill="#000000"/>
<path d="M1169.7,1002.1H1185.1" stroke="#ED1C24" stroke-width="2.9"/>
<path d="M1192.9,1002.1H1208.3" stroke="#ED1C24" stroke-width="2.9"/>
<path d="M1216.2,1002.1H1231.6" stroke="#ED1C24" stroke-width="2.9"/>
<path d="M1262.6,1002.1H1278" stroke="#ED1C24" stroke-width="2.9"/>
<path d="M1285.8,1000H1301.2" stroke="#ED1C24" stroke-width="2.9"/>
<path d="M1309,1002.1H1324.4" stroke="#ED1C24" stroke-width="2.9"/>
<path d="M1355.4,1002.1H1370.8" stroke="#ED1C24" stroke-width="2.9"/>
<path d="M1378.7,1002.1H1394.1" stroke="#ED1C24" stroke-width="2.9"/>
<path d="M1402,1002.1H1417.4" stroke="#ED1C24" stroke-width="2.9"/>
<path d="M1425.2,1002.1H1440.6" stroke="#ED1C24" stroke-width="2.9"/>
<text transform="translate(1185,1022) rotate(-90)" x="-39.9" y="0" font-size="22" textLength="40.65" lengthAdjust="spacingAndGlyphs">WA1</text>
<text transform="translate(1208.4,1022) rotate(-90)" x="-41.26" y="0" font-size="22" textLength="41.87" lengthAdjust="spacingAndGlyphs">BA.1</text>
<text transform="translate(1231.8,1019.5) rotate(-90)" x="-43.76" y="0" font-size="22" textLength="44.42" lengthAdjust="spacingAndGlyphs">BA.5</text>
<text transform="translate(1254,1022) rotate(-90)" x="-55.21" y="0" font-size="22" textLength="56.45" lengthAdjust="spacingAndGlyphs">BQ1.1</text>
<text transform="translate(1278.6,1022) rotate(-90)" x="-39.9" y="0" font-size="22" textLength="40.65" lengthAdjust="spacingAndGlyphs">WA1</text>
<text transform="translate(1302,1022) rotate(-90)" x="-41.26" y="0" font-size="22" textLength="41.87" lengthAdjust="spacingAndGlyphs">BA.1</text>
<text transform="translate(1325.4,1019.5) rotate(-90)" x="-43.76" y="0" font-size="22" textLength="44.42" lengthAdjust="spacingAndGlyphs">BA.5</text>
<text transform="translate(1347.6,1022) rotate(-90)" x="-55.21" y="0" font-size="22" textLength="56.45" lengthAdjust="spacingAndGlyphs">BQ1.1</text>
<text transform="translate(1372.2,1022) rotate(-90)" x="-39.9" y="0" font-size="22" textLength="40.65" lengthAdjust="spacingAndGlyphs">WA1</text>
<text transform="translate(1395.6,1022) rotate(-90)" x="-41.26" y="0" font-size="22" textLength="41.87" lengthAdjust="spacingAndGlyphs">BA.1</text>
<text transform="translate(1419,1019.5) rotate(-90)" x="-43.76" y="0" font-size="22" textLength="44.42" lengthAdjust="spacingAndGlyphs">BA.5</text>
<text transform="translate(1441.2,1022) rotate(-90)" x="-55.21" y="0" font-size="22" textLength="56.45" lengthAdjust="spacingAndGlyphs">BQ1.1</text>
<path d="M1171.1,1088.6H1258.1" stroke="#000" stroke-width="2.1"/>
<text x="1204.9" y="1114.5" font-size="22" textLength="12.25" lengthAdjust="spacingAndGlyphs">0</text>
<path d="M1266.1,1088.6H1353.1" stroke="#000" stroke-width="2.1"/>
<text x="1299.2" y="1114.5" font-size="22" textLength="12.25" lengthAdjust="spacingAndGlyphs">2</text>
<path d="M1361.1,1088.6H1448.1" stroke="#000" stroke-width="2.1"/>
<text x="1390.98" y="1114.5" font-size="22" textLength="23.55" lengthAdjust="spacingAndGlyphs">12</text>
<text x="1607.25" y="807.4" font-size="22" textLength="86.01" lengthAdjust="spacingAndGlyphs">No boost</text>
<path d="M1511.8,809.8V1002.2M1503.3,1002.2H1799M1503.3,810.8H1511.8M1503.3,874.6H1511.8M1503.3,938.4H1511.8M1527.3,1002.2v8.6M1550.4,1002.2v8.6M1573.6,1002.2v8.6M1596.9,1002.2v8.6M1620,1002.2v8.6M1643.2,1002.2v8.6M1666.7,1002.2v8.6M1689.9,1002.2v8.6M1713.1,1002.2v8.6M1736.4,1002.2v8.6M1759.7,1002.2v8.6M1782.9,1002.2v8.6" stroke="#000" stroke-width="2.1" fill="none"/>
<text x="1499.3" y="818" font-size="20.5" text-anchor="end">10<tspan font-size="14.5" dy="-6.8">1</tspan></text>
<text x="1499.3" y="881.8" font-size="20.5" text-anchor="end">10<tspan font-size="14.5" dy="-6.8">0</tspan></text>
<text x="1499.3" y="945.6" font-size="20.5" text-anchor="end">10<tspan font-size="14.5" dy="-6.8">−1</tspan></text>
<text x="1499.3" y="1009.4" font-size="20.5" text-anchor="end">10<tspan font-size="14.5" dy="-6.8">−2</tspan></text>
<circle cx="1523.6" cy="1002.2" r="4.05" fill="#3A55A5"/>
<circle cx="1527.3" cy="1002.2" r="4.05" fill="#3A55A5"/>
<circle cx="1531" cy="1002.2" r="4.05" fill="#3A55A5"/>
<circle cx="1546.7" cy="1002.2" r="4.05" fill="#68BD45"/>
<circle cx="1550.4" cy="1002.2" r="4.05" fill="#68BD45"/>
<circle cx="1554.1" cy="1002.2" r="4.05" fill="#68BD45"/>
<circle cx="1569.9" cy="1002.2" r="4.05" fill="#7B2A83"/>
<circle cx="1573.6" cy="1002.2" r="4.05" fill="#7B2A83"/>
<circle cx="1577.3" cy="1002.2" r="4.05" fill="#7B2A83"/>
<circle cx="1663" cy="1002.2" r="4.05" fill="#7B2A83"/>
<circle cx="1666.7" cy="1002.2" r="4.05" fill="#7B2A83"/>
<circle cx="1670.4" cy="1002.2" r="4.05" fill="#7B2A83"/>
<circle cx="1756" cy="1002.2" r="4.05" fill="#7B2A83"/>
<circle cx="1759.7" cy="1002.2" r="4.05" fill="#7B2A83"/>
<circle cx="1763.4" cy="1002.2" r="4.05" fill="#7B2A83"/>
<circle cx="1779.2" cy="1002.2" r="4.05" fill="#000000"/>
<circle cx="1782.9" cy="1002.2" r="4.05" fill="#000000"/>
<circle cx="1786.6" cy="1002.2" r="4.05" fill="#000000"/>
<circle cx="1527.3" cy="963.6" r="4.05" fill="#3A55A5"/>
<circle cx="1550.4" cy="975.1" r="4.05" fill="#68BD45"/>
<circle cx="1550.4" cy="984.9" r="4.05" fill="#68BD45"/>
<circle cx="1573.6" cy="972.3" r="4.05" fill="#7B2A83"/>
<circle cx="1620" cy="941.4" r="4.05" fill="#3A55A5"/>
<circle cx="1616.3" cy="981" r="4.05" fill="#3A55A5"/>
<circle cx="1620" cy="987.7" r="4.05" fill="#3A55A5"/>
<circle cx="1620" cy="997.2" r="4.05" fill="#3A55A5"/>
<circle cx="1616.3" cy="1002.2" r="4.05" fill="#3A55A5"/>
<circle cx="1624.1" cy="1002.2" r="4.05" fill="#3A55A5"/>
<circle cx="1643.2" cy="941.7" r="4.05" fill="#68BD45"/>
<circle cx="1643.2" cy="975.1" r="4.05" fill="#68BD45"/>
<circle cx="1647.1" cy="991.2" r="4.05" fill="#68BD45"/>
<circle cx="1643.2" cy="996.4" r="4.05" fill="#68BD45"/>
<circle cx="1639.7" cy="1002.2" r="4.05" fill="#68BD45"/>
<circle cx="1647.1" cy="1002.2" r="4.05" fill="#68BD45"/>
<circle cx="1666.7" cy="942.5" r="4.05" fill="#7B2A83"/>
<circle cx="1666.7" cy="973.2" r="4.05" fill="#7B2A83"/>
<circle cx="1666.7" cy="989.5" r="4.05" fill="#7B2A83"/>
<circle cx="1713.1" cy="941.4" r="4.05" fill="#3A55A5"/>
<circle cx="1710.9" cy="974" r="4.05" fill="#3A55A5"/>
<circle cx="1715.4" cy="975.1" r="4.05" fill="#3A55A5"/>
<circle cx="1713.1" cy="995.1" r="4.05" fill="#3A55A5"/>
<circle cx="1709.2" cy="1002.2" r="4.05" fill="#3A55A5"/>
<circle cx="1716.8" cy="1002.2" r="4.05" fill="#3A55A5"/>
<circle cx="1736.4" cy="967.1" r="4.05" fill="#68BD45"/>
<circle cx="1736.4" cy="982" r="4.05" fill="#68BD45"/>
<circle cx="1740.4" cy="990.9" r="4.05" fill="#68BD45"/>
<circle cx="1736.4" cy="997.2" r="4.05" fill="#68BD45"/>
<circle cx="1732.6" cy="1002.2" r="4.05" fill="#68BD45"/>
<circle cx="1740.4" cy="1002.2" r="4.05" fill="#68BD45"/>
<circle cx="1759.7" cy="964.3" r="4.05" fill="#7B2A83"/>
<circle cx="1782.9" cy="949.5" r="4.05" fill="#000000"/>
<circle cx="1782.9" cy="970.5" r="4.05" fill="#000000"/>
<circle cx="1782.9" cy="981" r="4.05" fill="#000000"/>
<path d="M1519.6,1002.2H1535" stroke="#ED1C24" stroke-width="2.9"/>
<path d="M1542.7,1002.2H1558.1" stroke="#ED1C24" stroke-width="2.9"/>
<path d="M1565.9,1002.2H1581.3" stroke="#ED1C24" stroke-width="2.9"/>
<path d="M1612.3,992.4H1627.7" stroke="#ED1C24" stroke-width="2.9"/>
<path d="M1635.5,993.5H1650.9" stroke="#ED1C24" stroke-width="2.9"/>
<path d="M1659,995.3H1674.4" stroke="#ED1C24" stroke-width="2.9"/>
<path d="M1705.4,983.6H1720.8" stroke="#ED1C24" stroke-width="2.9"/>
<path d="M1728.7,994.4H1744.1" stroke="#ED1C24" stroke-width="2.9"/>
<path d="M1752,1002.2H1767.4" stroke="#ED1C24" stroke-width="2.9"/>
<path d="M1775.2,989.6H1790.6" stroke="#ED1C24" stroke-width="2.9"/>
<text transform="translate(1533.9,1022.1) rotate(-90)" x="-39.9" y="0" font-size="22" textLength="40.65" lengthAdjust="spacingAndGlyphs">WA1</text>
<text transform="translate(1557.3,1022.1) rotate(-90)" x="-41.26" y="0" font-size="22" textLength="41.87" lengthAdjust="spacingAndGlyphs">BA.1</text>
<text transform="translate(1580.7,1019.6) rotate(-90)" x="-43.76" y="0" font-size="22" textLength="44.42" lengthAdjust="spacingAndGlyphs">BA.5</text>
<text transform="translate(1602.9,1022.1) rotate(-90)" x="-55.21" y="0" font-size="22" textLength="56.45" lengthAdjust="spacingAndGlyphs">BQ1.1</text>
<text transform="translate(1627.5,1022.1) rotate(-90)" x="-39.9" y="0" font-size="22" textLength="40.65" lengthAdjust="spacingAndGlyphs">WA1</text>
<text transform="translate(1650.9,1022.1) rotate(-90)" x="-41.26" y="0" font-size="22" textLength="41.87" lengthAdjust="spacingAndGlyphs">BA.1</text>
<text transform="translate(1674.3,1019.6) rotate(-90)" x="-43.76" y="0" font-size="22" textLength="44.42" lengthAdjust="spacingAndGlyphs">BA.5</text>
<text transform="translate(1696.5,1022.1) rotate(-90)" x="-55.21" y="0" font-size="22" textLength="56.45" lengthAdjust="spacingAndGlyphs">BQ1.1</text>
<text transform="translate(1721.1,1022.1) rotate(-90)" x="-39.9" y="0" font-size="22" textLength="40.65" lengthAdjust="spacingAndGlyphs">WA1</text>
<text transform="translate(1744.5,1022.1) rotate(-90)" x="-41.26" y="0" font-size="22" textLength="41.87" lengthAdjust="spacingAndGlyphs">BA.1</text>
<text transform="translate(1767.9,1019.6) rotate(-90)" x="-43.76" y="0" font-size="22" textLength="44.42" lengthAdjust="spacingAndGlyphs">BA.5</text>
<text transform="translate(1790.1,1022.1) rotate(-90)" x="-55.21" y="0" font-size="22" textLength="56.45" lengthAdjust="spacingAndGlyphs">BQ1.1</text>
<path d="M1520,1088.6H1607" stroke="#000" stroke-width="2.1"/>
<text x="1553.8" y="1114.5" font-size="22" textLength="12.25" lengthAdjust="spacingAndGlyphs">0</text>
<path d="M1615,1088.6H1702" stroke="#000" stroke-width="2.1"/>
<text x="1648.1" y="1114.5" font-size="22" textLength="12.25" lengthAdjust="spacingAndGlyphs">2</text>
<path d="M1710,1088.6H1797" stroke="#000" stroke-width="2.1"/>
<text x="1739.88" y="1114.5" font-size="22" textLength="23.55" lengthAdjust="spacingAndGlyphs">12</text>
<text x="1982.06" y="807.4" font-size="22" textLength="54.24" lengthAdjust="spacingAndGlyphs">Sham</text>
<path d="M1865.1,809.8V1001.9M1856.6,1001.9H2152M1856.6,810.8H1865.1M1856.6,874.5H1865.1M1856.6,938.2H1865.1M1880.5,1001.9v8.6M1903.9,1001.9v8.6M1926.9,1001.9v8.6M1950.4,1001.9v8.6M1973.7,1001.9v8.6M1997,1001.9v8.6M2020.2,1001.9v8.6M2043.2,1001.9v8.6M2066.5,1001.9v8.6M2089.8,1001.9v8.6M2113,1001.9v8.6M2136.3,1001.9v8.6" stroke="#000" stroke-width="2.1" fill="none"/>
<text x="1852.6" y="818" font-size="20.5" text-anchor="end">10<tspan font-size="14.5" dy="-6.8">1</tspan></text>
<text x="1852.6" y="881.7" font-size="20.5" text-anchor="end">10<tspan font-size="14.5" dy="-6.8">0</tspan></text>
<text x="1852.6" y="945.4" font-size="20.5" text-anchor="end">10<tspan font-size="14.5" dy="-6.8">−1</tspan></text>
<text x="1852.6" y="1009.1" font-size="20.5" text-anchor="end">10<tspan font-size="14.5" dy="-6.8">−2</tspan></text>
<circle cx="2062.8" cy="1001.9" r="4.05" fill="#3A55A5"/>
<circle cx="2066.5" cy="1001.9" r="4.05" fill="#3A55A5"/>
<circle cx="2070.2" cy="1001.9" r="4.05" fill="#3A55A5"/>
<circle cx="2086.1" cy="1001.9" r="4.05" fill="#68BD45"/>
<circle cx="2089.8" cy="1001.9" r="4.05" fill="#68BD45"/>
<circle cx="2093.5" cy="1001.9" r="4.05" fill="#68BD45"/>
<circle cx="2109.3" cy="1001.9" r="4.05" fill="#7B2A83"/>
<circle cx="2113" cy="1001.9" r="4.05" fill="#7B2A83"/>
<circle cx="2116.7" cy="1001.9" r="4.05" fill="#7B2A83"/>
<circle cx="2132.6" cy="1001.9" r="4.05" fill="#000000"/>
<circle cx="2136.3" cy="1001.9" r="4.05" fill="#000000"/>
<circle cx="2140" cy="1001.9" r="4.05" fill="#000000"/>
<path d="M2058.8,1001.9H2074.2" stroke="#ED1C24" stroke-width="2.9"/>
<path d="M2082.1,1001.9H2097.5" stroke="#ED1C24" stroke-width="2.9"/>
<path d="M2105.3,1001.9H2120.7" stroke="#ED1C24" stroke-width="2.9"/>
<path d="M2128.6,1001.9H2144" stroke="#ED1C24" stroke-width="2.9"/>
<text transform="translate(1890.1,1021.8) rotate(-90)" x="-39.9" y="0" font-size="22" textLength="40.65" lengthAdjust="spacingAndGlyphs">WA1</text>
<text transform="translate(1913.5,1021.8) rotate(-90)" x="-41.26" y="0" font-size="22" textLength="41.87" lengthAdjust="spacingAndGlyphs">BA.1</text>
<text transform="translate(1936.9,1019.3) rotate(-90)" x="-43.76" y="0" font-size="22" textLength="44.42" lengthAdjust="spacingAndGlyphs">BA.5</text>
<text transform="translate(1959.1,1021.8) rotate(-90)" x="-55.21" y="0" font-size="22" textLength="56.45" lengthAdjust="spacingAndGlyphs">BQ1.1</text>
<text transform="translate(1983.7,1021.8) rotate(-90)" x="-39.9" y="0" font-size="22" textLength="40.65" lengthAdjust="spacingAndGlyphs">WA1</text>
<text transform="translate(2007.1,1021.8) rotate(-90)" x="-41.26" y="0" font-size="22" textLength="41.87" lengthAdjust="spacingAndGlyphs">BA.1</text>
<text transform="translate(2030.5,1019.3) rotate(-90)" x="-43.76" y="0" font-size="22" textLength="44.42" lengthAdjust="spacingAndGlyphs">BA.5</text>
<text transform="translate(2052.7,1021.8) rotate(-90)" x="-55.21" y="0" font-size="22" textLength="56.45" lengthAdjust="spacingAndGlyphs">BQ1.1</text>
<text transform="translate(2077.3,1021.8) rotate(-90)" x="-39.9" y="0" font-size="22" textLength="40.65" lengthAdjust="spacingAndGlyphs">WA1</text>
<text transform="translate(2100.7,1021.8) rotate(-90)" x="-41.26" y="0" font-size="22" textLength="41.87" lengthAdjust="spacingAndGlyphs">BA.1</text>
<text transform="translate(2124.1,1019.3) rotate(-90)" x="-43.76" y="0" font-size="22" textLength="44.42" lengthAdjust="spacingAndGlyphs">BA.5</text>
<text transform="translate(2146.3,1021.8) rotate(-90)" x="-55.21" y="0" font-size="22" textLength="56.45" lengthAdjust="spacingAndGlyphs">BQ1.1</text>
<path d="M1876.2,1088.6H1963.2" stroke="#000" stroke-width="2.1"/>
<text x="1910" y="1114.5" font-size="22" textLength="12.25" lengthAdjust="spacingAndGlyphs">0</text>
<path d="M1971.2,1088.6H2058.2" stroke="#000" stroke-width="2.1"/>
<text x="2004.3" y="1114.5" font-size="22" textLength="12.25" lengthAdjust="spacingAndGlyphs">2</text>
<path d="M2066.2,1088.6H2153.2" stroke="#000" stroke-width="2.1"/>
<text x="2096.08" y="1114.5" font-size="22" textLength="23.55" lengthAdjust="spacingAndGlyphs">12</text>
<text x="-0.22" y="1159.7" font-size="33.5" font-weight="bold" textLength="23" lengthAdjust="spacingAndGlyphs">d</text>
<text x="41.09" y="1158.9" font-size="22" textLength="108.36" lengthAdjust="spacingAndGlyphs">PBMC CD4</text>
<text x="196.4" y="1192.3" font-size="22" textLength="88.95" lengthAdjust="spacingAndGlyphs">Ad26 i.m.</text>
<path d="M100.9,1192.6V1385M92.4,1385H389.6M92.4,1193.6H100.9M92.4,1257.4H100.9M92.4,1321.2H100.9M116,1385v8.6M139.3,1385v8.6M162.7,1385v8.6M186.1,1385v8.6M209.3,1385v8.6M232.7,1385v8.6M256.1,1385v8.6M279.4,1385v8.6M302.7,1385v8.6M326.1,1385v8.6M349.6,1385v8.6M372.7,1385v8.6" stroke="#000" stroke-width="2.1" fill="none"/>
<text x="88.4" y="1200.8" font-size="20.5" text-anchor="end">10<tspan font-size="14.5" dy="-6.8">1</tspan></text>
<text x="88.4" y="1264.6" font-size="20.5" text-anchor="end">10<tspan font-size="14.5" dy="-6.8">0</tspan></text>
<text x="88.4" y="1328.4" font-size="20.5" text-anchor="end">10<tspan font-size="14.5" dy="-6.8">−1</tspan></text>
<text x="88.4" y="1392.2" font-size="20.5" text-anchor="end">10<tspan font-size="14.5" dy="-6.8">−2</tspan></text>
<circle cx="112.3" cy="1385" r="4.05" fill="#3A55A5"/>
<circle cx="116" cy="1385" r="4.05" fill="#3A55A5"/>
<circle cx="119.7" cy="1385" r="4.05" fill="#3A55A5"/>
<circle cx="135.6" cy="1385" r="4.05" fill="#68BD45"/>
<circle cx="139.3" cy="1385" r="4.05" fill="#68BD45"/>
<circle cx="143" cy="1385" r="4.05" fill="#68BD45"/>
<circle cx="159" cy="1385" r="4.05" fill="#7B2A83"/>
<circle cx="162.7" cy="1385" r="4.05" fill="#7B2A83"/>
<circle cx="166.4" cy="1385" r="4.05" fill="#7B2A83"/>
<circle cx="116" cy="1322.7" r="4.05" fill="#3A55A5"/>
<circle cx="139.3" cy="1328" r="4.05" fill="#68BD45"/>
<circle cx="162.7" cy="1318.9" r="4.05" fill="#7B2A83"/>
<circle cx="209.3" cy="1308.6" r="4.05" fill="#3A55A5"/>
<circle cx="213.3" cy="1331" r="4.05" fill="#3A55A5"/>
<circle cx="205.5" cy="1334.9" r="4.05" fill="#3A55A5"/>
<circle cx="213.3" cy="1342.8" r="4.05" fill="#3A55A5"/>
<circle cx="205.5" cy="1348.6" r="4.05" fill="#3A55A5"/>
<circle cx="213.3" cy="1355.2" r="4.05" fill="#3A55A5"/>
<circle cx="205.5" cy="1359.9" r="4.05" fill="#3A55A5"/>
<circle cx="232.7" cy="1314.3" r="4.05" fill="#68BD45"/>
<circle cx="229" cy="1337.5" r="4.05" fill="#68BD45"/>
<circle cx="236.7" cy="1336.8" r="4.05" fill="#68BD45"/>
<circle cx="236.7" cy="1346.3" r="4.05" fill="#68BD45"/>
<circle cx="229" cy="1348.6" r="4.05" fill="#68BD45"/>
<circle cx="236.7" cy="1365" r="4.05" fill="#68BD45"/>
<circle cx="229" cy="1370.7" r="4.05" fill="#68BD45"/>
<circle cx="256.1" cy="1316.6" r="4.05" fill="#7B2A83"/>
<circle cx="260" cy="1342.7" r="4.05" fill="#7B2A83"/>
<circle cx="255.7" cy="1344.7" r="4.05" fill="#7B2A83"/>
<circle cx="251.9" cy="1349.2" r="4.05" fill="#7B2A83"/>
<circle cx="260" cy="1355.4" r="4.05" fill="#7B2A83"/>
<circle cx="258" cy="1370.7" r="4.05" fill="#7B2A83"/>
<circle cx="254" cy="1378.2" r="4.05" fill="#7B2A83"/>
<circle cx="302.7" cy="1294" r="4.05" fill="#3A55A5"/>
<circle cx="298.9" cy="1321.3" r="4.05" fill="#3A55A5"/>
<circle cx="304.3" cy="1321.3" r="4.05" fill="#3A55A5"/>
<circle cx="306.9" cy="1322.8" r="4.05" fill="#3A55A5"/>
<circle cx="301.2" cy="1327.1" r="4.05" fill="#3A55A5"/>
<circle cx="304.1" cy="1330.1" r="4.05" fill="#3A55A5"/>
<circle cx="302.7" cy="1359" r="4.05" fill="#3A55A5"/>
<circle cx="326.1" cy="1297.2" r="4.05" fill="#68BD45"/>
<circle cx="330.1" cy="1321.9" r="4.05" fill="#68BD45"/>
<circle cx="322.2" cy="1328.6" r="4.05" fill="#68BD45"/>
<circle cx="330.1" cy="1334.9" r="4.05" fill="#68BD45"/>
<circle cx="326.1" cy="1339.3" r="4.05" fill="#68BD45"/>
<circle cx="326.1" cy="1356" r="4.05" fill="#68BD45"/>
<circle cx="349.6" cy="1293" r="4.05" fill="#7B2A83"/>
<circle cx="353.5" cy="1321.7" r="4.05" fill="#7B2A83"/>
<circle cx="345.4" cy="1327.1" r="4.05" fill="#7B2A83"/>
<circle cx="353.5" cy="1333.2" r="4.05" fill="#7B2A83"/>
<circle cx="349.6" cy="1341.2" r="4.05" fill="#7B2A83"/>
<circle cx="349.6" cy="1372.6" r="4.05" fill="#7B2A83"/>
<circle cx="372.7" cy="1299.9" r="4.05" fill="#000000"/>
<circle cx="369.2" cy="1321.5" r="4.05" fill="#000000"/>
<circle cx="376.6" cy="1326.7" r="4.05" fill="#000000"/>
<circle cx="370.1" cy="1329" r="4.05" fill="#000000"/>
<circle cx="373.9" cy="1335.9" r="4.05" fill="#000000"/>
<circle cx="372.7" cy="1363.8" r="4.05" fill="#000000"/>
<path d="M108.3,1385H123.7" stroke="#ED1C24" stroke-width="2.9"/>
<path d="M131.6,1385H147" stroke="#ED1C24" stroke-width="2.9"/>
<path d="M155,1385H170.4" stroke="#ED1C24" stroke-width="2.9"/>
<path d="M201.6,1342.5H217" stroke="#ED1C24" stroke-width="2.9"/>
<path d="M225,1346.5H240.4" stroke="#ED1C24" stroke-width="2.9"/>
<path d="M248.4,1349.1H263.8" stroke="#ED1C24" stroke-width="2.9"/>
<path d="M295,1323.4H310.4" stroke="#ED1C24" stroke-width="2.9"/>
<path d="M318.4,1328.7H333.8" stroke="#ED1C24" stroke-width="2.9"/>
<path d="M341.9,1327.1H357.3" stroke="#ED1C24" stroke-width="2.9"/>
<path d="M365,1326.8H380.4" stroke="#ED1C24" stroke-width="2.9"/>
<text transform="translate(122.9,1404.9) rotate(-90)" x="-39.9" y="0" font-size="22" textLength="40.65" lengthAdjust="spacingAndGlyphs">WA1</text>
<text transform="translate(146.3,1404.9) rotate(-90)" x="-41.26" y="0" font-size="22" textLength="41.87" lengthAdjust="spacingAndGlyphs">BA.1</text>
<text transform="translate(169.7,1402.4) rotate(-90)" x="-43.76" y="0" font-size="22" textLength="44.42" lengthAdjust="spacingAndGlyphs">BA.5</text>
<text transform="translate(191.9,1404.9) rotate(-90)" x="-55.21" y="0" font-size="22" textLength="56.45" lengthAdjust="spacingAndGlyphs">BQ1.1</text>
<text transform="translate(216.5,1404.9) rotate(-90)" x="-39.9" y="0" font-size="22" textLength="40.65" lengthAdjust="spacingAndGlyphs">WA1</text>
<text transform="translate(239.9,1404.9) rotate(-90)" x="-41.26" y="0" font-size="22" textLength="41.87" lengthAdjust="spacingAndGlyphs">BA.1</text>
<text transform="translate(263.3,1402.4) rotate(-90)" x="-43.76" y="0" font-size="22" textLength="44.42" lengthAdjust="spacingAndGlyphs">BA.5</text>
<text transform="translate(285.5,1404.9) rotate(-90)" x="-55.21" y="0" font-size="22" textLength="56.45" lengthAdjust="spacingAndGlyphs">BQ1.1</text>
<text transform="translate(310.1,1404.9) rotate(-90)" x="-39.9" y="0" font-size="22" textLength="40.65" lengthAdjust="spacingAndGlyphs">WA1</text>
<text transform="translate(333.5,1404.9) rotate(-90)" x="-41.26" y="0" font-size="22" textLength="41.87" lengthAdjust="spacingAndGlyphs">BA.1</text>
<text transform="translate(356.9,1402.4) rotate(-90)" x="-43.76" y="0" font-size="22" textLength="44.42" lengthAdjust="spacingAndGlyphs">BA.5</text>
<text transform="translate(379.1,1404.9) rotate(-90)" x="-55.21" y="0" font-size="22" textLength="56.45" lengthAdjust="spacingAndGlyphs">BQ1.1</text>
<path d="M109,1472H196" stroke="#000" stroke-width="2.1"/>
<text x="142.8" y="1498.1" font-size="22" textLength="12.25" lengthAdjust="spacingAndGlyphs">0</text>
<path d="M204,1472H291" stroke="#000" stroke-width="2.1"/>
<text x="237.1" y="1498.1" font-size="22" textLength="12.25" lengthAdjust="spacingAndGlyphs">2</text>
<path d="M299,1472H386" stroke="#000" stroke-width="2.1"/>
<text x="328.88" y="1498.1" font-size="22" textLength="23.55" lengthAdjust="spacingAndGlyphs">12</text>
<text x="23.2" y="1493.8" font-size="22" textLength="52.9" lengthAdjust="spacingAndGlyphs">Week</text>
<text transform="translate(38.6,1289.3) rotate(-90)" font-size="21" text-anchor="middle">IFN<tspan font-size="14" dy="-7">+</tspan><tspan dy="7">CD4</tspan><tspan font-size="14" dy="-7">+</tspan><tspan dy="7"> T cells</tspan></text>
<text x="562.1" y="1192.3" font-size="22" textLength="82.76" lengthAdjust="spacingAndGlyphs">Ad26 i.n.</text>
<path d="M456.3,1192.6V1385.1M447.8,1385.1H744.7M447.8,1193.6H456.3M447.8,1257.43H456.3M447.8,1321.27H456.3M471.7,1385.1v8.6M494.9,1385.1v8.6M518.1,1385.1v8.6M541.7,1385.1v8.6M564.9,1385.1v8.6M588.2,1385.1v8.6M611.7,1385.1v8.6M634.9,1385.1v8.6M658.3,1385.1v8.6M681.7,1385.1v8.6M705,1385.1v8.6M728.4,1385.1v8.6" stroke="#000" stroke-width="2.1" fill="none"/>
<text x="443.8" y="1200.8" font-size="20.5" text-anchor="end">10<tspan font-size="14.5" dy="-6.8">1</tspan></text>
<text x="443.8" y="1264.63" font-size="20.5" text-anchor="end">10<tspan font-size="14.5" dy="-6.8">0</tspan></text>
<text x="443.8" y="1328.47" font-size="20.5" text-anchor="end">10<tspan font-size="14.5" dy="-6.8">−1</tspan></text>
<text x="443.8" y="1392.3" font-size="20.5" text-anchor="end">10<tspan font-size="14.5" dy="-6.8">−2</tspan></text>
<circle cx="468" cy="1385.1" r="4.05" fill="#3A55A5"/>
<circle cx="471.7" cy="1385.1" r="4.05" fill="#3A55A5"/>
<circle cx="475.4" cy="1385.1" r="4.05" fill="#3A55A5"/>
<circle cx="491.2" cy="1385.1" r="4.05" fill="#68BD45"/>
<circle cx="494.9" cy="1385.1" r="4.05" fill="#68BD45"/>
<circle cx="498.6" cy="1385.1" r="4.05" fill="#68BD45"/>
<circle cx="514.4" cy="1385.1" r="4.05" fill="#7B2A83"/>
<circle cx="518.1" cy="1385.1" r="4.05" fill="#7B2A83"/>
<circle cx="521.8" cy="1385.1" r="4.05" fill="#7B2A83"/>
<circle cx="467.7" cy="1356.8" r="4.05" fill="#3A55A5"/>
<circle cx="472.6" cy="1362.4" r="4.05" fill="#3A55A5"/>
<circle cx="494.9" cy="1343.8" r="4.05" fill="#68BD45"/>
<circle cx="494.9" cy="1369" r="4.05" fill="#68BD45"/>
<circle cx="518.1" cy="1346" r="4.05" fill="#7B2A83"/>
<circle cx="518.1" cy="1366.1" r="4.05" fill="#7B2A83"/>
<circle cx="561.1" cy="1327.8" r="4.05" fill="#3A55A5"/>
<circle cx="569" cy="1328.7" r="4.05" fill="#3A55A5"/>
<circle cx="561.1" cy="1336.4" r="4.05" fill="#3A55A5"/>
<circle cx="564.9" cy="1346.2" r="4.05" fill="#3A55A5"/>
<circle cx="564.9" cy="1361.1" r="4.05" fill="#3A55A5"/>
<circle cx="561.1" cy="1385.1" r="4.05" fill="#3A55A5"/>
<circle cx="569" cy="1385.1" r="4.05" fill="#3A55A5"/>
<circle cx="584.3" cy="1333.9" r="4.05" fill="#68BD45"/>
<circle cx="592.1" cy="1336.8" r="4.05" fill="#68BD45"/>
<circle cx="588.2" cy="1341.6" r="4.05" fill="#68BD45"/>
<circle cx="588.2" cy="1365" r="4.05" fill="#68BD45"/>
<circle cx="588.2" cy="1380.2" r="4.05" fill="#68BD45"/>
<circle cx="592.1" cy="1382.8" r="4.05" fill="#68BD45"/>
<circle cx="584.3" cy="1385.1" r="4.05" fill="#68BD45"/>
<circle cx="607.8" cy="1334.5" r="4.05" fill="#7B2A83"/>
<circle cx="615.6" cy="1335" r="4.05" fill="#7B2A83"/>
<circle cx="607.8" cy="1351.6" r="4.05" fill="#7B2A83"/>
<circle cx="615.6" cy="1352.3" r="4.05" fill="#7B2A83"/>
<circle cx="611.7" cy="1372.4" r="4.05" fill="#7B2A83"/>
<circle cx="615.6" cy="1382.8" r="4.05" fill="#7B2A83"/>
<circle cx="607.8" cy="1385.4" r="4.05" fill="#7B2A83"/>
<circle cx="658.3" cy="1318.9" r="4.05" fill="#3A55A5"/>
<circle cx="662.4" cy="1333" r="4.05" fill="#3A55A5"/>
<circle cx="654.2" cy="1336.8" r="4.05" fill="#3A55A5"/>
<circle cx="658.3" cy="1341.2" r="4.05" fill="#3A55A5"/>
<circle cx="658.3" cy="1349.4" r="4.05" fill="#3A55A5"/>
<circle cx="658.3" cy="1357.2" r="4.05" fill="#3A55A5"/>
<circle cx="658.3" cy="1385.1" r="4.05" fill="#3A55A5"/>
<circle cx="677.9" cy="1332.7" r="4.05" fill="#68BD45"/>
<circle cx="685.7" cy="1335.3" r="4.05" fill="#68BD45"/>
<circle cx="681.7" cy="1338.6" r="4.05" fill="#68BD45"/>
<circle cx="677.9" cy="1344.5" r="4.05" fill="#68BD45"/>
<circle cx="685.7" cy="1349" r="4.05" fill="#68BD45"/>
<circle cx="681.7" cy="1353.1" r="4.05" fill="#68BD45"/>
<circle cx="681.7" cy="1365" r="4.05" fill="#68BD45"/>
<circle cx="701.1" cy="1329" r="4.05" fill="#7B2A83"/>
<circle cx="709" cy="1336" r="4.05" fill="#7B2A83"/>
<circle cx="705" cy="1340.1" r="4.05" fill="#7B2A83"/>
<circle cx="701.1" cy="1348.3" r="4.05" fill="#7B2A83"/>
<circle cx="709" cy="1352" r="4.05" fill="#7B2A83"/>
<circle cx="705" cy="1353.1" r="4.05" fill="#7B2A83"/>
<circle cx="705" cy="1382.8" r="4.05" fill="#7B2A83"/>
<circle cx="728.4" cy="1316.6" r="4.05" fill="#000000"/>
<circle cx="724.5" cy="1334.7" r="4.05" fill="#000000"/>
<circle cx="732.3" cy="1333.4" r="4.05" fill="#000000"/>
<circle cx="732.3" cy="1341.2" r="4.05" fill="#000000"/>
<circle cx="724.5" cy="1348.6" r="4.05" fill="#000000"/>
<circle cx="732.3" cy="1359" r="4.05" fill="#000000"/>
<circle cx="724.5" cy="1362.4" r="4.05" fill="#000000"/>
<path d="M464,1385.1H479.4" stroke="#ED1C24" stroke-width="2.9"/>
<path d="M487.2,1385.1H502.6" stroke="#ED1C24" stroke-width="2.9"/>
<path d="M510.4,1385.1H525.8" stroke="#ED1C24" stroke-width="2.9"/>
<path d="M557.2,1346.4H572.6" stroke="#ED1C24" stroke-width="2.9"/>
<path d="M580.5,1365.2H595.9" stroke="#ED1C24" stroke-width="2.9"/>
<path d="M604,1352.3H619.4" stroke="#ED1C24" stroke-width="2.9"/>
<path d="M650.6,1340.8H666" stroke="#ED1C24" stroke-width="2.9"/>
<path d="M674,1344.5H689.4" stroke="#ED1C24" stroke-width="2.9"/>
<path d="M697.3,1348.6H712.7" stroke="#ED1C24" stroke-width="2.9"/>
<path d="M720.7,1341.4H736.1" stroke="#ED1C24" stroke-width="2.9"/>
<text transform="translate(478.4,1405) rotate(-90)" x="-39.9" y="0" font-size="22" textLength="40.65" lengthAdjust="spacingAndGlyphs">WA1</text>
<text transform="translate(501.8,1405) rotate(-90)" x="-41.26" y="0" font-size="22" textLength="41.87" lengthAdjust="spacingAndGlyphs">BA.1</text>
<text transform="translate(525.2,1402.5) rotate(-90)" x="-43.76" y="0" font-size="22" textLength="44.42" lengthAdjust="spacingAndGlyphs">BA.5</text>
<text transform="translate(547.4,1405) rotate(-90)" x="-55.21" y="0" font-size="22" textLength="56.45" lengthAdjust="spacingAndGlyphs">BQ1.1</text>
<text transform="translate(572,1405) rotate(-90)" x="-39.9" y="0" font-size="22" textLength="40.65" lengthAdjust="spacingAndGlyphs">WA1</text>
<text transform="translate(595.4,1405) rotate(-90)" x="-41.26" y="0" font-size="22" textLength="41.87" lengthAdjust="spacingAndGlyphs">BA.1</text>
<text transform="translate(618.8,1402.5) rotate(-90)" x="-43.76" y="0" font-size="22" textLength="44.42" lengthAdjust="spacingAndGlyphs">BA.5</text>
<text transform="translate(641,1405) rotate(-90)" x="-55.21" y="0" font-size="22" textLength="56.45" lengthAdjust="spacingAndGlyphs">BQ1.1</text>
<text transform="translate(665.6,1405) rotate(-90)" x="-39.9" y="0" font-size="22" textLength="40.65" lengthAdjust="spacingAndGlyphs">WA1</text>
<text transform="translate(689,1405) rotate(-90)" x="-41.26" y="0" font-size="22" textLength="41.87" lengthAdjust="spacingAndGlyphs">BA.1</text>
<text transform="translate(712.4,1402.5) rotate(-90)" x="-43.76" y="0" font-size="22" textLength="44.42" lengthAdjust="spacingAndGlyphs">BA.5</text>
<text transform="translate(734.6,1405) rotate(-90)" x="-55.21" y="0" font-size="22" textLength="56.45" lengthAdjust="spacingAndGlyphs">BQ1.1</text>
<path d="M464.5,1472H551.5" stroke="#000" stroke-width="2.1"/>
<text x="498.3" y="1498.1" font-size="22" textLength="12.25" lengthAdjust="spacingAndGlyphs">0</text>
<path d="M559.5,1472H646.5" stroke="#000" stroke-width="2.1"/>
<text x="592.6" y="1498.1" font-size="22" textLength="12.25" lengthAdjust="spacingAndGlyphs">2</text>
<path d="M654.5,1472H741.5" stroke="#000" stroke-width="2.1"/>
<text x="684.38" y="1498.1" font-size="22" textLength="23.55" lengthAdjust="spacingAndGlyphs">12</text>
<text x="912.7" y="1192.3" font-size="22" textLength="77.35" lengthAdjust="spacingAndGlyphs">Ad26 i.t.</text>
<path d="M807.7,1192.6V1385.2M799.2,1385.2H1096.3M799.2,1193.6H807.7M799.2,1257.47H807.7M799.2,1321.33H807.7M823.1,1385.2v8.6M846.7,1385.2v8.6M869.9,1385.2v8.6M893.1,1385.2v8.6M916.7,1385.2v8.6M939.9,1385.2v8.6M963.3,1385.2v8.6M986.7,1385.2v8.6M1009.9,1385.2v8.6M1033.6,1385.2v8.6M1056.8,1385.2v8.6M1080.1,1385.2v8.6" stroke="#000" stroke-width="2.1" fill="none"/>
<text x="795.2" y="1200.8" font-size="20.5" text-anchor="end">10<tspan font-size="14.5" dy="-6.8">1</tspan></text>
<text x="795.2" y="1264.67" font-size="20.5" text-anchor="end">10<tspan font-size="14.5" dy="-6.8">0</tspan></text>
<text x="795.2" y="1328.53" font-size="20.5" text-anchor="end">10<tspan font-size="14.5" dy="-6.8">−1</tspan></text>
<text x="795.2" y="1392.4" font-size="20.5" text-anchor="end">10<tspan font-size="14.5" dy="-6.8">−2</tspan></text>
<circle cx="819.4" cy="1385.2" r="4.05" fill="#3A55A5"/>
<circle cx="823.1" cy="1385.2" r="4.05" fill="#3A55A5"/>
<circle cx="826.8" cy="1385.2" r="4.05" fill="#3A55A5"/>
<circle cx="843" cy="1385.2" r="4.05" fill="#68BD45"/>
<circle cx="846.7" cy="1385.2" r="4.05" fill="#68BD45"/>
<circle cx="850.4" cy="1385.2" r="4.05" fill="#68BD45"/>
<circle cx="866.2" cy="1385.2" r="4.05" fill="#7B2A83"/>
<circle cx="869.9" cy="1385.2" r="4.05" fill="#7B2A83"/>
<circle cx="873.6" cy="1385.2" r="4.05" fill="#7B2A83"/>
<circle cx="916.7" cy="1292" r="4.05" fill="#3A55A5"/>
<circle cx="912.7" cy="1306.8" r="4.05" fill="#3A55A5"/>
<circle cx="920.6" cy="1308.4" r="4.05" fill="#3A55A5"/>
<circle cx="916.7" cy="1319.1" r="4.05" fill="#3A55A5"/>
<circle cx="916.7" cy="1335.9" r="4.05" fill="#3A55A5"/>
<circle cx="916.7" cy="1353.2" r="4.05" fill="#3A55A5"/>
<circle cx="939.9" cy="1293.1" r="4.05" fill="#68BD45"/>
<circle cx="939.9" cy="1305.3" r="4.05" fill="#68BD45"/>
<circle cx="936" cy="1322.8" r="4.05" fill="#68BD45"/>
<circle cx="943.7" cy="1322" r="4.05" fill="#68BD45"/>
<circle cx="936" cy="1353.2" r="4.05" fill="#68BD45"/>
<circle cx="943.7" cy="1353.2" r="4.05" fill="#68BD45"/>
<circle cx="963.3" cy="1297" r="4.05" fill="#7B2A83"/>
<circle cx="959.3" cy="1306.6" r="4.05" fill="#7B2A83"/>
<circle cx="967.3" cy="1310.3" r="4.05" fill="#7B2A83"/>
<circle cx="963.3" cy="1329" r="4.05" fill="#7B2A83"/>
<circle cx="963.3" cy="1341.4" r="4.05" fill="#7B2A83"/>
<circle cx="963.3" cy="1374.2" r="4.05" fill="#7B2A83"/>
<circle cx="1006.1" cy="1314.1" r="4.05" fill="#3A55A5"/>
<circle cx="1013.6" cy="1314.1" r="4.05" fill="#3A55A5"/>
<circle cx="1009.9" cy="1313.5" r="4.05" fill="#3A55A5"/>
<circle cx="1008.2" cy="1322.6" r="4.05" fill="#3A55A5"/>
<circle cx="1011.9" cy="1323.2" r="4.05" fill="#3A55A5"/>
<circle cx="1009.9" cy="1362.5" r="4.05" fill="#3A55A5"/>
<circle cx="1033.6" cy="1312.2" r="4.05" fill="#68BD45"/>
<circle cx="1031.5" cy="1320.7" r="4.05" fill="#68BD45"/>
<circle cx="1037.3" cy="1326.5" r="4.05" fill="#68BD45"/>
<circle cx="1033.1" cy="1330.7" r="4.05" fill="#68BD45"/>
<circle cx="1033.6" cy="1364.8" r="4.05" fill="#68BD45"/>
<circle cx="1056.4" cy="1316.2" r="4.05" fill="#7B2A83"/>
<circle cx="1061" cy="1316.6" r="4.05" fill="#7B2A83"/>
<circle cx="1052.7" cy="1321.1" r="4.05" fill="#7B2A83"/>
<circle cx="1056.4" cy="1329" r="4.05" fill="#7B2A83"/>
<circle cx="1061" cy="1329" r="4.05" fill="#7B2A83"/>
<circle cx="1056.8" cy="1361.1" r="4.05" fill="#7B2A83"/>
<circle cx="1080.1" cy="1310.3" r="4.05" fill="#000000"/>
<circle cx="1076.2" cy="1323.6" r="4.05" fill="#000000"/>
<circle cx="1080.1" cy="1323.6" r="4.05" fill="#000000"/>
<circle cx="1083.9" cy="1323.6" r="4.05" fill="#000000"/>
<circle cx="1080.1" cy="1374.4" r="4.05" fill="#000000"/>
<path d="M815.4,1385.2H830.8" stroke="#ED1C24" stroke-width="2.9"/>
<path d="M839,1385.2H854.4" stroke="#ED1C24" stroke-width="2.9"/>
<path d="M862.2,1385.2H877.6" stroke="#ED1C24" stroke-width="2.9"/>
<path d="M909,1313.2H924.4" stroke="#ED1C24" stroke-width="2.9"/>
<path d="M932.2,1322.6H947.6" stroke="#ED1C24" stroke-width="2.9"/>
<path d="M955.6,1318.2H971" stroke="#ED1C24" stroke-width="2.9"/>
<path d="M1002.2,1318.1H1017.6" stroke="#ED1C24" stroke-width="2.9"/>
<path d="M1025.9,1324.1H1041.3" stroke="#ED1C24" stroke-width="2.9"/>
<path d="M1049.1,1324.9H1064.5" stroke="#ED1C24" stroke-width="2.9"/>
<path d="M1072.4,1323.6H1087.8" stroke="#ED1C24" stroke-width="2.9"/>
<text transform="translate(830.4,1405.1) rotate(-90)" x="-39.9" y="0" font-size="22" textLength="40.65" lengthAdjust="spacingAndGlyphs">WA1</text>
<text transform="translate(853.8,1405.1) rotate(-90)" x="-41.26" y="0" font-size="22" textLength="41.87" lengthAdjust="spacingAndGlyphs">BA.1</text>
<text transform="translate(877.2,1402.6) rotate(-90)" x="-43.76" y="0" font-size="22" textLength="44.42" lengthAdjust="spacingAndGlyphs">BA.5</text>
<text transform="translate(899.4,1405.1) rotate(-90)" x="-55.21" y="0" font-size="22" textLength="56.45" lengthAdjust="spacingAndGlyphs">BQ1.1</text>
<text transform="translate(924,1405.1) rotate(-90)" x="-39.9" y="0" font-size="22" textLength="40.65" lengthAdjust="spacingAndGlyphs">WA1</text>
<text transform="translate(947.4,1405.1) rotate(-90)" x="-41.26" y="0" font-size="22" textLength="41.87" lengthAdjust="spacingAndGlyphs">BA.1</text>
<text transform="translate(970.8,1402.6) rotate(-90)" x="-43.76" y="0" font-size="22" textLength="44.42" lengthAdjust="spacingAndGlyphs">BA.5</text>
<text transform="translate(993,1405.1) rotate(-90)" x="-55.21" y="0" font-size="22" textLength="56.45" lengthAdjust="spacingAndGlyphs">BQ1.1</text>
<text transform="translate(1017.6,1405.1) rotate(-90)" x="-39.9" y="0" font-size="22" textLength="40.65" lengthAdjust="spacingAndGlyphs">WA1</text>
<text transform="translate(1041,1405.1) rotate(-90)" x="-41.26" y="0" font-size="22" textLength="41.87" lengthAdjust="spacingAndGlyphs">BA.1</text>
<text transform="translate(1064.4,1402.6) rotate(-90)" x="-43.76" y="0" font-size="22" textLength="44.42" lengthAdjust="spacingAndGlyphs">BA.5</text>
<text transform="translate(1086.6,1405.1) rotate(-90)" x="-55.21" y="0" font-size="22" textLength="56.45" lengthAdjust="spacingAndGlyphs">BQ1.1</text>
<path d="M816.5,1472H903.5" stroke="#000" stroke-width="2.1"/>
<text x="850.3" y="1498.1" font-size="22" textLength="12.25" lengthAdjust="spacingAndGlyphs">0</text>
<path d="M911.5,1472H998.5" stroke="#000" stroke-width="2.1"/>
<text x="944.6" y="1498.1" font-size="22" textLength="12.25" lengthAdjust="spacingAndGlyphs">2</text>
<path d="M1006.5,1472H1093.5" stroke="#000" stroke-width="2.1"/>
<text x="1036.38" y="1498.1" font-size="22" textLength="23.55" lengthAdjust="spacingAndGlyphs">12</text>
<text x="1253.17" y="1192.3" font-size="22" textLength="95.59" lengthAdjust="spacingAndGlyphs">mRNA i.n.</text>
<path d="M1162,1192.6V1384.9M1153.5,1384.9H1450.8M1153.5,1193.6H1162M1153.5,1257.37H1162M1153.5,1321.13H1162M1177.4,1384.9v8.6M1200.8,1384.9v8.6M1224,1384.9v8.6M1247.5,1384.9v8.6M1270.8,1384.9v8.6M1294.2,1384.9v8.6M1317.6,1384.9v8.6M1341,1384.9v8.6M1364.2,1384.9v8.6M1387.6,1384.9v8.6M1411.1,1384.9v8.6M1434.4,1384.9v8.6" stroke="#000" stroke-width="2.1" fill="none"/>
<text x="1149.5" y="1200.8" font-size="20.5" text-anchor="end">10<tspan font-size="14.5" dy="-6.8">1</tspan></text>
<text x="1149.5" y="1264.57" font-size="20.5" text-anchor="end">10<tspan font-size="14.5" dy="-6.8">0</tspan></text>
<text x="1149.5" y="1328.33" font-size="20.5" text-anchor="end">10<tspan font-size="14.5" dy="-6.8">−1</tspan></text>
<text x="1149.5" y="1392.1" font-size="20.5" text-anchor="end">10<tspan font-size="14.5" dy="-6.8">−2</tspan></text>
<circle cx="1173.7" cy="1384.9" r="4.05" fill="#3A55A5"/>
<circle cx="1177.4" cy="1384.9" r="4.05" fill="#3A55A5"/>
<circle cx="1181.1" cy="1384.9" r="4.05" fill="#3A55A5"/>
<circle cx="1197.1" cy="1384.9" r="4.05" fill="#68BD45"/>
<circle cx="1200.8" cy="1384.9" r="4.05" fill="#68BD45"/>
<circle cx="1204.5" cy="1384.9" r="4.05" fill="#68BD45"/>
<circle cx="1220.3" cy="1384.9" r="4.05" fill="#7B2A83"/>
<circle cx="1224" cy="1384.9" r="4.05" fill="#7B2A83"/>
<circle cx="1227.7" cy="1384.9" r="4.05" fill="#7B2A83"/>
<circle cx="1267.1" cy="1384.9" r="4.05" fill="#3A55A5"/>
<circle cx="1270.8" cy="1384.9" r="4.05" fill="#3A55A5"/>
<circle cx="1274.5" cy="1384.9" r="4.05" fill="#3A55A5"/>
<circle cx="1290.5" cy="1384.9" r="4.05" fill="#68BD45"/>
<circle cx="1294.2" cy="1384.9" r="4.05" fill="#68BD45"/>
<circle cx="1297.9" cy="1384.9" r="4.05" fill="#68BD45"/>
<circle cx="1313.9" cy="1384.9" r="4.05" fill="#7B2A83"/>
<circle cx="1317.6" cy="1384.9" r="4.05" fill="#7B2A83"/>
<circle cx="1321.3" cy="1384.9" r="4.05" fill="#7B2A83"/>
<circle cx="1360.5" cy="1384.9" r="4.05" fill="#3A55A5"/>
<circle cx="1364.2" cy="1384.9" r="4.05" fill="#3A55A5"/>
<circle cx="1367.9" cy="1384.9" r="4.05" fill="#3A55A5"/>
<circle cx="1383.9" cy="1384.9" r="4.05" fill="#68BD45"/>
<circle cx="1387.6" cy="1384.9" r="4.05" fill="#68BD45"/>
<circle cx="1391.3" cy="1384.9" r="4.05" fill="#68BD45"/>
<circle cx="1407.4" cy="1384.9" r="4.05" fill="#7B2A83"/>
<circle cx="1411.1" cy="1384.9" r="4.05" fill="#7B2A83"/>
<circle cx="1414.8" cy="1384.9" r="4.05" fill="#7B2A83"/>
<circle cx="1430.7" cy="1384.9" r="4.05" fill="#000000"/>
<circle cx="1434.4" cy="1384.9" r="4.05" fill="#000000"/>
<circle cx="1438.1" cy="1384.9" r="4.05" fill="#000000"/>
<circle cx="1177.4" cy="1328" r="4.05" fill="#3A55A5"/>
<circle cx="1200.8" cy="1331.3" r="4.05" fill="#68BD45"/>
<circle cx="1224" cy="1331.3" r="4.05" fill="#7B2A83"/>
<circle cx="1270.8" cy="1341.3" r="4.05" fill="#3A55A5"/>
<circle cx="1294.2" cy="1346.1" r="4.05" fill="#68BD45"/>
<circle cx="1291.7" cy="1380.4" r="4.05" fill="#68BD45"/>
<circle cx="1317.6" cy="1354.9" r="4.05" fill="#7B2A83"/>
<circle cx="1364.2" cy="1357.9" r="4.05" fill="#3A55A5"/>
<circle cx="1364.2" cy="1367.7" r="4.05" fill="#3A55A5"/>
<circle cx="1386.7" cy="1357.9" r="4.05" fill="#68BD45"/>
<circle cx="1388.7" cy="1359" r="4.05" fill="#68BD45"/>
<circle cx="1410" cy="1350.7" r="4.05" fill="#7B2A83"/>
<circle cx="1411.9" cy="1354" r="4.05" fill="#7B2A83"/>
<circle cx="1434.4" cy="1349.1" r="4.05" fill="#000000"/>
<circle cx="1434.4" cy="1357" r="4.05" fill="#000000"/>
<path d="M1169.7,1384.9H1185.1" stroke="#ED1C24" stroke-width="2.9"/>
<path d="M1193.1,1384.9H1208.5" stroke="#ED1C24" stroke-width="2.9"/>
<path d="M1216.3,1384.9H1231.7" stroke="#ED1C24" stroke-width="2.9"/>
<path d="M1263.1,1384.9H1278.5" stroke="#ED1C24" stroke-width="2.9"/>
<path d="M1286.5,1384.9H1301.9" stroke="#ED1C24" stroke-width="2.9"/>
<path d="M1309.9,1384.9H1325.3" stroke="#ED1C24" stroke-width="2.9"/>
<path d="M1356.5,1384.9H1371.9" stroke="#ED1C24" stroke-width="2.9"/>
<path d="M1379.9,1384.9H1395.3" stroke="#ED1C24" stroke-width="2.9"/>
<path d="M1403.4,1384.9H1418.8" stroke="#ED1C24" stroke-width="2.9"/>
<path d="M1426.7,1384.9H1442.1" stroke="#ED1C24" stroke-width="2.9"/>
<text transform="translate(1186.1,1404.8) rotate(-90)" x="-39.9" y="0" font-size="22" textLength="40.65" lengthAdjust="spacingAndGlyphs">WA1</text>
<text transform="translate(1209.5,1404.8) rotate(-90)" x="-41.26" y="0" font-size="22" textLength="41.87" lengthAdjust="spacingAndGlyphs">BA.1</text>
<text transform="translate(1232.9,1402.3) rotate(-90)" x="-43.76" y="0" font-size="22" textLength="44.42" lengthAdjust="spacingAndGlyphs">BA.5</text>
<text transform="translate(1255.1,1404.8) rotate(-90)" x="-55.21" y="0" font-size="22" textLength="56.45" lengthAdjust="spacingAndGlyphs">BQ1.1</text>
<text transform="translate(1279.7,1404.8) rotate(-90)" x="-39.9" y="0" font-size="22" textLength="40.65" lengthAdjust="spacingAndGlyphs">WA1</text>
<text transform="translate(1303.1,1404.8) rotate(-90)" x="-41.26" y="0" font-size="22" textLength="41.87" lengthAdjust="spacingAndGlyphs">BA.1</text>
<text transform="translate(1326.5,1402.3) rotate(-90)" x="-43.76" y="0" font-size="22" textLength="44.42" lengthAdjust="spacingAndGlyphs">BA.5</text>
<text transform="translate(1348.7,1404.8) rotate(-90)" x="-55.21" y="0" font-size="22" textLength="56.45" lengthAdjust="spacingAndGlyphs">BQ1.1</text>
<text transform="translate(1373.3,1404.8) rotate(-90)" x="-39.9" y="0" font-size="22" textLength="40.65" lengthAdjust="spacingAndGlyphs">WA1</text>
<text transform="translate(1396.7,1404.8) rotate(-90)" x="-41.26" y="0" font-size="22" textLength="41.87" lengthAdjust="spacingAndGlyphs">BA.1</text>
<text transform="translate(1420.1,1402.3) rotate(-90)" x="-43.76" y="0" font-size="22" textLength="44.42" lengthAdjust="spacingAndGlyphs">BA.5</text>
<text transform="translate(1442.3,1404.8) rotate(-90)" x="-55.21" y="0" font-size="22" textLength="56.45" lengthAdjust="spacingAndGlyphs">BQ1.1</text>
<path d="M1172.2,1472H1259.2" stroke="#000" stroke-width="2.1"/>
<text x="1206" y="1498.1" font-size="22" textLength="12.25" lengthAdjust="spacingAndGlyphs">0</text>
<path d="M1267.2,1472H1354.2" stroke="#000" stroke-width="2.1"/>
<text x="1300.3" y="1498.1" font-size="22" textLength="12.25" lengthAdjust="spacingAndGlyphs">2</text>
<path d="M1362.2,1472H1449.2" stroke="#000" stroke-width="2.1"/>
<text x="1392.08" y="1498.1" font-size="22" textLength="23.55" lengthAdjust="spacingAndGlyphs">12</text>
<text x="1607.25" y="1192.3" font-size="22" textLength="86.01" lengthAdjust="spacingAndGlyphs">No boost</text>
<path d="M1511.8,1192.6V1385M1503.3,1385H1800.5M1503.3,1193.6H1511.8M1503.3,1257.4H1511.8M1503.3,1321.2H1511.8M1527.1,1385v8.6M1550.4,1385v8.6M1573.9,1385v8.6M1597,1385v8.6M1620.4,1385v8.6M1643.8,1385v8.6M1667.1,1385v8.6M1690.8,1385v8.6M1714,1385v8.6M1737.2,1385v8.6M1760.6,1385v8.6M1783.8,1385v8.6" stroke="#000" stroke-width="2.1" fill="none"/>
<text x="1499.3" y="1200.8" font-size="20.5" text-anchor="end">10<tspan font-size="14.5" dy="-6.8">1</tspan></text>
<text x="1499.3" y="1264.6" font-size="20.5" text-anchor="end">10<tspan font-size="14.5" dy="-6.8">0</tspan></text>
<text x="1499.3" y="1328.4" font-size="20.5" text-anchor="end">10<tspan font-size="14.5" dy="-6.8">−1</tspan></text>
<text x="1499.3" y="1392.2" font-size="20.5" text-anchor="end">10<tspan font-size="14.5" dy="-6.8">−2</tspan></text>
<circle cx="1523.4" cy="1385" r="4.05" fill="#3A55A5"/>
<circle cx="1527.1" cy="1385" r="4.05" fill="#3A55A5"/>
<circle cx="1530.8" cy="1385" r="4.05" fill="#3A55A5"/>
<circle cx="1546.7" cy="1385" r="4.05" fill="#68BD45"/>
<circle cx="1550.4" cy="1385" r="4.05" fill="#68BD45"/>
<circle cx="1554.1" cy="1385" r="4.05" fill="#68BD45"/>
<circle cx="1570.2" cy="1385" r="4.05" fill="#7B2A83"/>
<circle cx="1573.9" cy="1385" r="4.05" fill="#7B2A83"/>
<circle cx="1577.6" cy="1385" r="4.05" fill="#7B2A83"/>
<circle cx="1616.7" cy="1385" r="4.05" fill="#3A55A5"/>
<circle cx="1620.4" cy="1385" r="4.05" fill="#3A55A5"/>
<circle cx="1624.1" cy="1385" r="4.05" fill="#3A55A5"/>
<circle cx="1640.1" cy="1385" r="4.05" fill="#68BD45"/>
<circle cx="1643.8" cy="1385" r="4.05" fill="#68BD45"/>
<circle cx="1647.5" cy="1385" r="4.05" fill="#68BD45"/>
<circle cx="1663.4" cy="1385" r="4.05" fill="#7B2A83"/>
<circle cx="1667.1" cy="1385" r="4.05" fill="#7B2A83"/>
<circle cx="1670.8" cy="1385" r="4.05" fill="#7B2A83"/>
<circle cx="1710.3" cy="1385" r="4.05" fill="#3A55A5"/>
<circle cx="1714" cy="1385" r="4.05" fill="#3A55A5"/>
<circle cx="1717.7" cy="1385" r="4.05" fill="#3A55A5"/>
<circle cx="1733.5" cy="1385" r="4.05" fill="#68BD45"/>
<circle cx="1737.2" cy="1385" r="4.05" fill="#68BD45"/>
<circle cx="1740.9" cy="1385" r="4.05" fill="#68BD45"/>
<circle cx="1756.9" cy="1385" r="4.05" fill="#7B2A83"/>
<circle cx="1760.6" cy="1385" r="4.05" fill="#7B2A83"/>
<circle cx="1764.3" cy="1385" r="4.05" fill="#7B2A83"/>
<circle cx="1780.1" cy="1385" r="4.05" fill="#000000"/>
<circle cx="1783.8" cy="1385" r="4.05" fill="#000000"/>
<circle cx="1787.5" cy="1385" r="4.05" fill="#000000"/>
<circle cx="1620.4" cy="1375.7" r="4.05" fill="#3A55A5"/>
<circle cx="1618.5" cy="1380.5" r="4.05" fill="#3A55A5"/>
<circle cx="1714" cy="1359.7" r="4.05" fill="#3A55A5"/>
<circle cx="1737.2" cy="1355.8" r="4.05" fill="#68BD45"/>
<circle cx="1760.6" cy="1352.9" r="4.05" fill="#7B2A83"/>
<circle cx="1783.8" cy="1363.5" r="4.05" fill="#000000"/>
<path d="M1519.4,1385H1534.8" stroke="#ED1C24" stroke-width="2.9"/>
<path d="M1542.7,1385H1558.1" stroke="#ED1C24" stroke-width="2.9"/>
<path d="M1566.2,1385H1581.6" stroke="#ED1C24" stroke-width="2.9"/>
<path d="M1612.7,1383.9H1628.1" stroke="#ED1C24" stroke-width="2.9"/>
<path d="M1636.1,1385H1651.5" stroke="#ED1C24" stroke-width="2.9"/>
<path d="M1659.4,1385H1674.8" stroke="#ED1C24" stroke-width="2.9"/>
<path d="M1706.3,1385H1721.7" stroke="#ED1C24" stroke-width="2.9"/>
<path d="M1729.5,1385H1744.9" stroke="#ED1C24" stroke-width="2.9"/>
<path d="M1752.9,1385H1768.3" stroke="#ED1C24" stroke-width="2.9"/>
<path d="M1776.1,1385H1791.5" stroke="#ED1C24" stroke-width="2.9"/>
<text transform="translate(1535.3,1404.9) rotate(-90)" x="-39.9" y="0" font-size="22" textLength="40.65" lengthAdjust="spacingAndGlyphs">WA1</text>
<text transform="translate(1558.7,1404.9) rotate(-90)" x="-41.26" y="0" font-size="22" textLength="41.87" lengthAdjust="spacingAndGlyphs">BA.1</text>
<text transform="translate(1582.1,1402.4) rotate(-90)" x="-43.76" y="0" font-size="22" textLength="44.42" lengthAdjust="spacingAndGlyphs">BA.5</text>
<text transform="translate(1604.3,1404.9) rotate(-90)" x="-55.21" y="0" font-size="22" textLength="56.45" lengthAdjust="spacingAndGlyphs">BQ1.1</text>
<text transform="translate(1628.9,1404.9) rotate(-90)" x="-39.9" y="0" font-size="22" textLength="40.65" lengthAdjust="spacingAndGlyphs">WA1</text>
<text transform="translate(1652.3,1404.9) rotate(-90)" x="-41.26" y="0" font-size="22" textLength="41.87" lengthAdjust="spacingAndGlyphs">BA.1</text>
<text transform="translate(1675.7,1402.4) rotate(-90)" x="-43.76" y="0" font-size="22" textLength="44.42" lengthAdjust="spacingAndGlyphs">BA.5</text>
<text transform="translate(1697.9,1404.9) rotate(-90)" x="-55.21" y="0" font-size="22" textLength="56.45" lengthAdjust="spacingAndGlyphs">BQ1.1</text>
<text transform="translate(1722.5,1404.9) rotate(-90)" x="-39.9" y="0" font-size="22" textLength="40.65" lengthAdjust="spacingAndGlyphs">WA1</text>
<text transform="translate(1745.9,1404.9) rotate(-90)" x="-41.26" y="0" font-size="22" textLength="41.87" lengthAdjust="spacingAndGlyphs">BA.1</text>
<text transform="translate(1769.3,1402.4) rotate(-90)" x="-43.76" y="0" font-size="22" textLength="44.42" lengthAdjust="spacingAndGlyphs">BA.5</text>
<text transform="translate(1791.5,1404.9) rotate(-90)" x="-55.21" y="0" font-size="22" textLength="56.45" lengthAdjust="spacingAndGlyphs">BQ1.1</text>
<path d="M1521.4,1472H1608.4" stroke="#000" stroke-width="2.1"/>
<text x="1555.2" y="1498.1" font-size="22" textLength="12.25" lengthAdjust="spacingAndGlyphs">0</text>
<path d="M1616.4,1472H1703.4" stroke="#000" stroke-width="2.1"/>
<text x="1649.5" y="1498.1" font-size="22" textLength="12.25" lengthAdjust="spacingAndGlyphs">2</text>
<path d="M1711.4,1472H1798.4" stroke="#000" stroke-width="2.1"/>
<text x="1741.28" y="1498.1" font-size="22" textLength="23.55" lengthAdjust="spacingAndGlyphs">12</text>
<text x="1982.06" y="1192.3" font-size="22" textLength="54.24" lengthAdjust="spacingAndGlyphs">Sham</text>
<path d="M1865.1,1192.6V1385.1M1856.6,1385.1H2153.8M1856.6,1193.6H1865.1M1856.6,1257.43H1865.1M1856.6,1321.27H1865.1M1880.5,1385.1v8.6M1903.9,1385.1v8.6M1927.2,1385.1v8.6M1950.6,1385.1v8.6M1973.9,1385.1v8.6M1997.4,1385.1v8.6M2020.7,1385.1v8.6M2044.2,1385.1v8.6M2067.2,1385.1v8.6M2090.7,1385.1v8.6M2114,1385.1v8.6M2137.3,1385.1v8.6" stroke="#000" stroke-width="2.1" fill="none"/>
<text x="1852.6" y="1200.8" font-size="20.5" text-anchor="end">10<tspan font-size="14.5" dy="-6.8">1</tspan></text>
<text x="1852.6" y="1264.63" font-size="20.5" text-anchor="end">10<tspan font-size="14.5" dy="-6.8">0</tspan></text>
<text x="1852.6" y="1328.47" font-size="20.5" text-anchor="end">10<tspan font-size="14.5" dy="-6.8">−1</tspan></text>
<text x="1852.6" y="1392.3" font-size="20.5" text-anchor="end">10<tspan font-size="14.5" dy="-6.8">−2</tspan></text>
<circle cx="2063.5" cy="1385.1" r="4.05" fill="#3A55A5"/>
<circle cx="2067.2" cy="1385.1" r="4.05" fill="#3A55A5"/>
<circle cx="2070.9" cy="1385.1" r="4.05" fill="#3A55A5"/>
<circle cx="2087" cy="1385.1" r="4.05" fill="#68BD45"/>
<circle cx="2090.7" cy="1385.1" r="4.05" fill="#68BD45"/>
<circle cx="2094.4" cy="1385.1" r="4.05" fill="#68BD45"/>
<circle cx="2110.3" cy="1385.1" r="4.05" fill="#7B2A83"/>
<circle cx="2114" cy="1385.1" r="4.05" fill="#7B2A83"/>
<circle cx="2117.7" cy="1385.1" r="4.05" fill="#7B2A83"/>
<circle cx="2133.6" cy="1385.1" r="4.05" fill="#000000"/>
<circle cx="2137.3" cy="1385.1" r="4.05" fill="#000000"/>
<circle cx="2141" cy="1385.1" r="4.05" fill="#000000"/>
<path d="M2059.5,1385.1H2074.9" stroke="#ED1C24" stroke-width="2.9"/>
<path d="M2083,1385.1H2098.4" stroke="#ED1C24" stroke-width="2.9"/>
<path d="M2106.3,1385.1H2121.7" stroke="#ED1C24" stroke-width="2.9"/>
<path d="M2129.6,1385.1H2145" stroke="#ED1C24" stroke-width="2.9"/>
<text transform="translate(1891,1405) rotate(-90)" x="-39.9" y="0" font-size="22" textLength="40.65" lengthAdjust="spacingAndGlyphs">WA1</text>
<text transform="translate(1914.4,1405) rotate(-90)" x="-41.26" y="0" font-size="22" textLength="41.87" lengthAdjust="spacingAndGlyphs">BA.1</text>
<text transform="translate(1937.8,1402.5) rotate(-90)" x="-43.76" y="0" font-size="22" textLength="44.42" lengthAdjust="spacingAndGlyphs">BA.5</text>
<text transform="translate(1960,1405) rotate(-90)" x="-55.21" y="0" font-size="22" textLength="56.45" lengthAdjust="spacingAndGlyphs">BQ1.1</text>
<text transform="translate(1984.6,1405) rotate(-90)" x="-39.9" y="0" font-size="22" textLength="40.65" lengthAdjust="spacingAndGlyphs">WA1</text>
<text transform="translate(2008,1405) rotate(-90)" x="-41.26" y="0" font-size="22" textLength="41.87" lengthAdjust="spacingAndGlyphs">BA.1</text>
<text transform="translate(2031.4,1402.5) rotate(-90)" x="-43.76" y="0" font-size="22" textLength="44.42" lengthAdjust="spacingAndGlyphs">BA.5</text>
<text transform="translate(2053.6,1405) rotate(-90)" x="-55.21" y="0" font-size="22" textLength="56.45" lengthAdjust="spacingAndGlyphs">BQ1.1</text>
<text transform="translate(2078.2,1405) rotate(-90)" x="-39.9" y="0" font-size="22" textLength="40.65" lengthAdjust="spacingAndGlyphs">WA1</text>
<text transform="translate(2101.6,1405) rotate(-90)" x="-41.26" y="0" font-size="22" textLength="41.87" lengthAdjust="spacingAndGlyphs">BA.1</text>
<text transform="translate(2125,1402.5) rotate(-90)" x="-43.76" y="0" font-size="22" textLength="44.42" lengthAdjust="spacingAndGlyphs">BA.5</text>
<text transform="translate(2147.2,1405) rotate(-90)" x="-55.21" y="0" font-size="22" textLength="56.45" lengthAdjust="spacingAndGlyphs">BQ1.1</text>
<path d="M1877.1,1472H1964.1" stroke="#000" stroke-width="2.1"/>
<text x="1910.9" y="1498.1" font-size="22" textLength="12.25" lengthAdjust="spacingAndGlyphs">0</text>
<path d="M1972.1,1472H2059.1" stroke="#000" stroke-width="2.1"/>
<text x="2005.2" y="1498.1" font-size="22" textLength="12.25" lengthAdjust="spacingAndGlyphs">2</text>
<path d="M2067.1,1472H2154.1" stroke="#000" stroke-width="2.1"/>
<text x="2096.98" y="1498.1" font-size="22" textLength="23.55" lengthAdjust="spacingAndGlyphs">12</text>
</svg></body></html>
